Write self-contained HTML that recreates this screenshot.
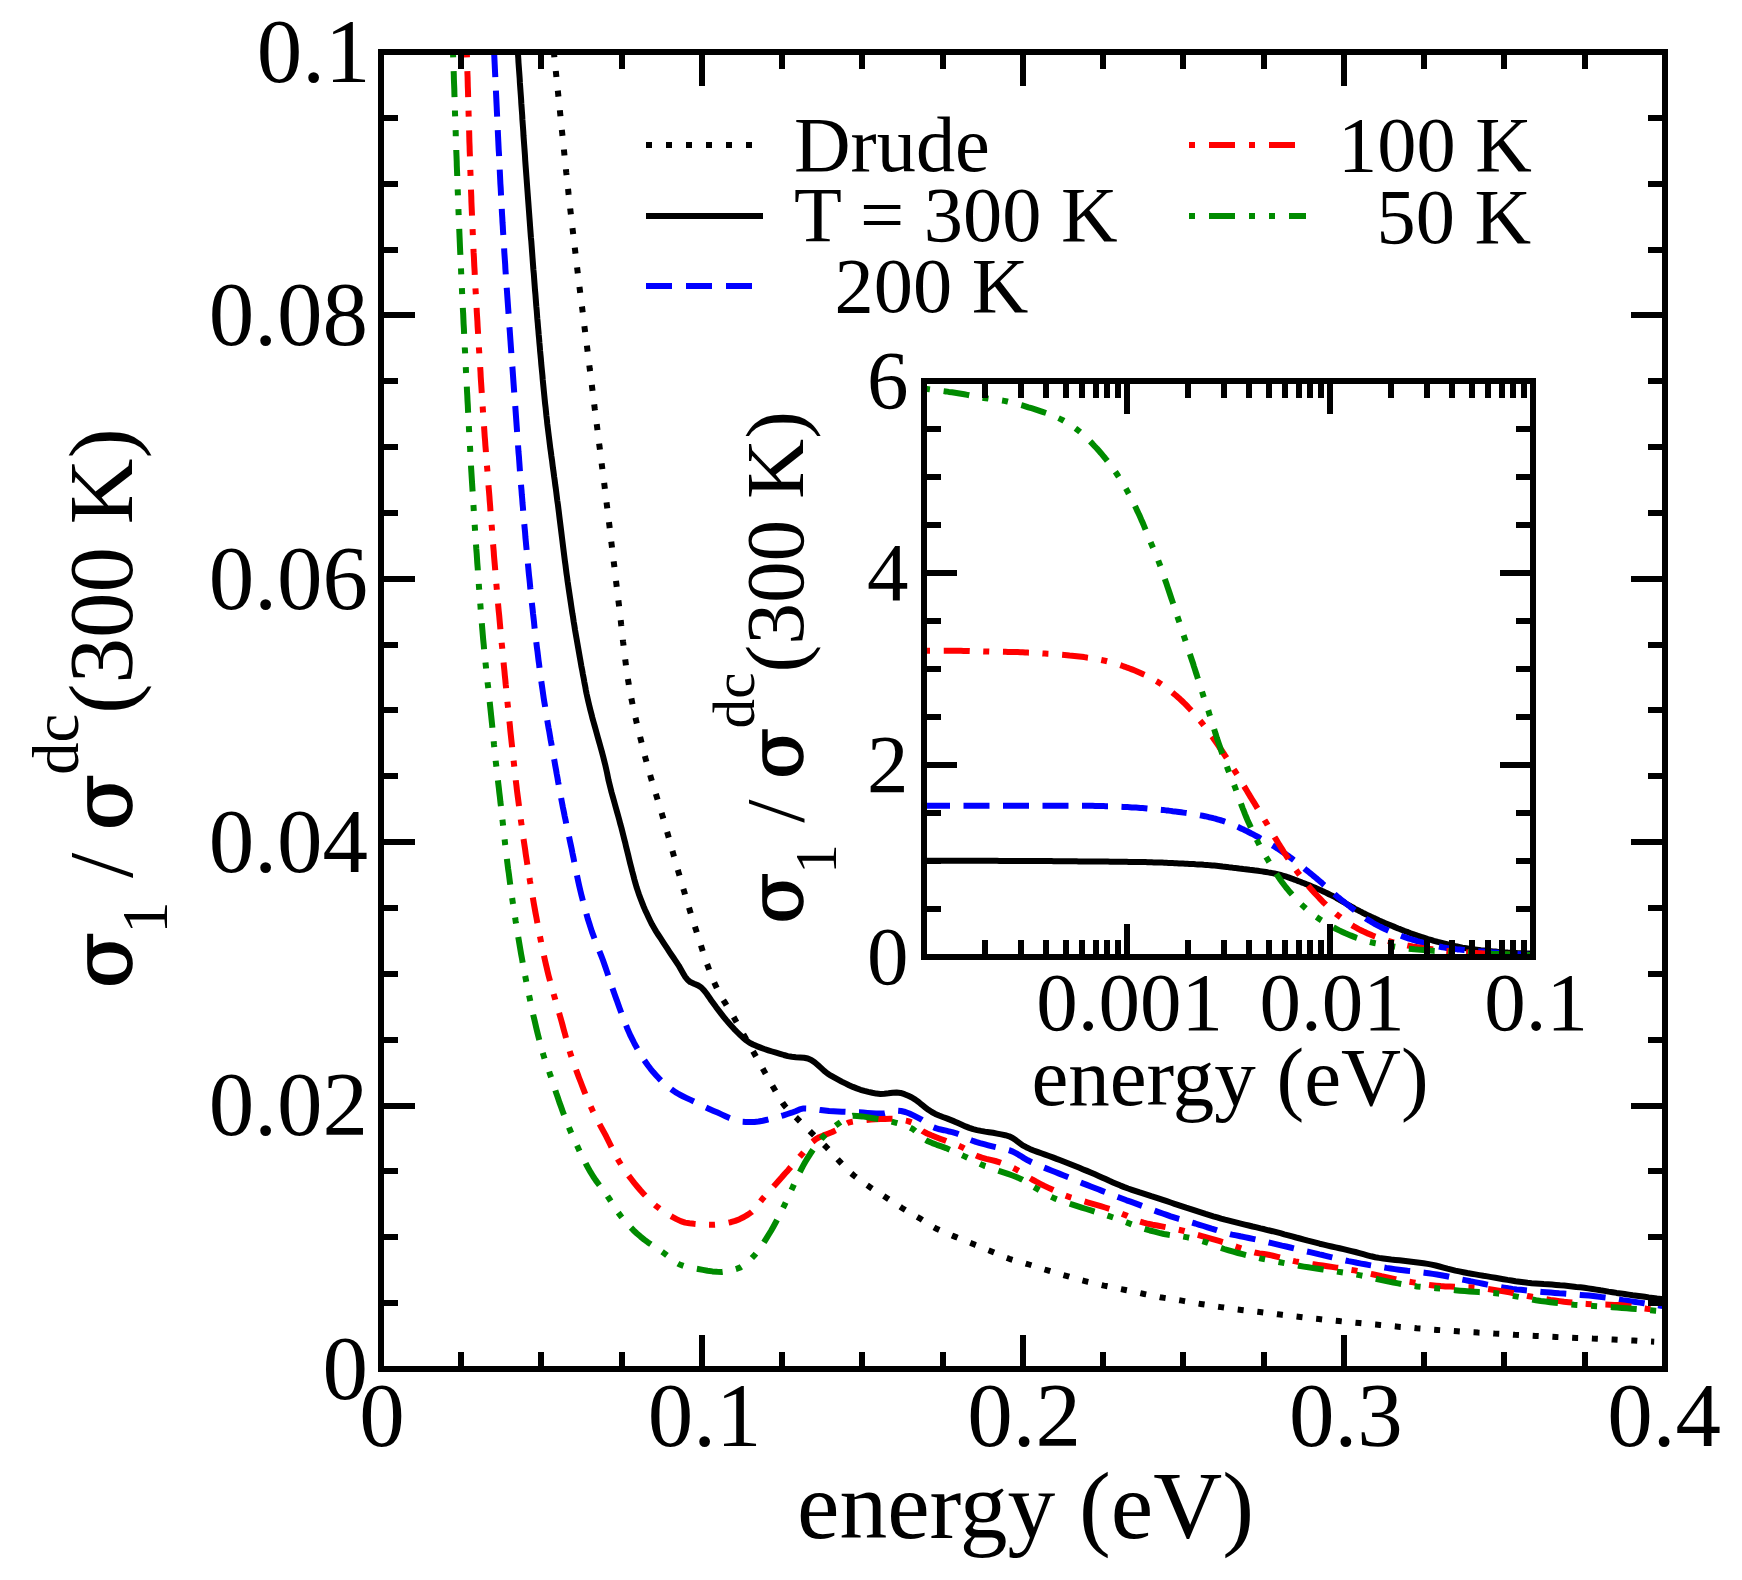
<!DOCTYPE html>
<html lang="en"><head><meta charset="utf-8"><title>Optical conductivity</title>
<style>html,body{margin:0;padding:0;background:#fff}svg{display:block}text{font-family:"Liberation Serif",serif;fill:#000}.sg{font-family:"DejaVu Serif","Liberation Serif",serif;stroke:#000}</style></head><body>
<svg width="1742" height="1580" viewBox="0 0 1742 1580">
<rect width="1742" height="1580" fill="#fff"/>
<defs><clipPath id="cm"><rect x="381" y="52" width="1284" height="1317"/></clipPath>
<clipPath id="ci"><rect x="924" y="381" width="609" height="576"/></clipPath></defs>
<g id="main-curves">
<path d="M550.6 22.0 L551.1 26.1 L551.5 30.2 L551.9 34.2 L552.4 38.3 L552.8 42.4 L553.2 46.5 L553.6 50.6 L554.1 54.6 L554.5 58.7 L554.9 62.8 L555.4 66.9 L555.8 71.0 L556.2 75.0 L556.6 79.1 L557.0 83.2 L557.5 87.3 L557.9 91.4 L558.3 95.4 L558.7 99.5 L559.1 103.6 L559.6 107.7 L560.0 111.8 L560.4 115.8 L560.8 119.9 L561.2 124.0 L561.6 128.1 L562.1 132.2 L562.5 136.2 L562.9 140.3 L563.3 144.4 L563.8 148.5 L564.2 152.6 L564.6 156.6 L565.0 160.7 L565.5 164.8 L565.9 168.9 L566.3 173.0 L566.8 177.0 L567.2 181.1 L567.6 185.2 L568.1 189.3 L568.5 193.4 L569.0 197.4 L569.4 201.5 L569.9 205.6 L570.3 209.7 L570.8 213.7 L571.3 217.8 L571.7 221.9 L572.2 226.0 L572.7 230.0 L573.2 234.1 L573.6 238.2 L574.1 242.3 L574.6 246.3 L575.1 250.4 L575.6 254.5 L576.1 258.5 L576.5 262.6 L577.0 266.7 L577.5 270.8 L578.0 274.8 L578.5 278.9 L579.0 283.0 L579.5 287.1 L580.0 291.1 L580.5 295.2 L581.0 299.3 L581.5 303.3 L582.1 307.4 L582.6 311.5 L583.1 315.5 L583.6 319.6 L584.1 323.7 L584.6 327.8 L585.1 331.8 L585.6 335.9 L586.1 340.0 L586.7 344.0 L587.2 348.1 L587.7 352.2 L588.2 356.2 L588.7 360.3 L589.2 364.4 L589.7 368.5 L590.3 372.5 L590.8 376.6 L591.3 380.7 L591.8 384.7 L592.3 388.8 L592.8 392.9 L593.3 396.9 L593.8 401.0 L594.3 405.1 L594.8 409.2 L595.4 413.2 L595.9 417.3 L596.4 421.4 L596.9 425.4 L597.4 429.5 L597.9 433.6 L598.4 437.6 L598.9 441.7 L599.4 445.8 L600.0 449.9 L600.5 453.9 L601.0 458.0 L601.5 462.1 L602.0 466.1 L602.5 470.2 L603.0 474.3 L603.5 478.3 L604.1 482.4 L604.6 486.5 L605.1 490.6 L605.6 494.6 L606.1 498.7 L606.6 502.8 L607.1 506.8 L607.6 510.9 L608.1 515.0 L608.6 519.1 L609.1 523.1 L609.6 527.2 L610.1 531.3 L610.5 535.3 L611.0 539.4 L611.5 543.5 L612.0 547.6 L612.5 551.6 L613.0 555.7 L613.5 559.8 L614.0 563.9 L614.5 567.9 L614.9 572.0 L615.4 576.1 L615.9 580.1 L616.4 584.2 L616.9 588.3 L617.4 592.4 L617.9 596.4 L618.4 600.5 L618.9 604.6 L619.4 608.7 L619.8 612.7 L620.3 616.8 L620.8 620.9 L621.2 625.0 L621.7 629.1 L622.1 633.1 L622.6 637.2 L623.0 641.3 L623.5 645.4 L624.0 649.5 L624.5 653.5 L625.0 657.6 L625.5 661.7 L626.0 665.7 L626.6 669.8 L627.1 673.9 L627.7 677.9 L628.4 681.9 L629.0 686.0 L629.7 690.0 L630.5 694.0 L631.3 698.1 L632.1 702.1 L632.9 706.1 L633.8 710.1 L634.6 714.1 L635.6 718.1 L636.5 722.1 L637.4 726.1 L638.4 730.1 L639.4 734.1 L640.4 738.1 L641.4 742.1 L642.4 746.1 L643.4 750.0 L644.4 754.0 L645.4 758.0 L646.5 762.0 L647.5 765.9 L648.7 769.9 L649.8 773.8 L650.9 777.7 L652.1 781.7 L653.3 785.6 L654.5 789.5 L655.7 793.5 L656.9 797.4 L658.1 801.3 L659.3 805.2 L660.5 809.1 L661.7 813.1 L662.8 817.0 L664.0 820.9 L665.1 824.9 L666.2 828.8 L667.4 832.8 L668.5 836.7 L669.6 840.7 L670.7 844.6 L671.8 848.6 L672.9 852.5 L674.0 856.5 L675.1 860.4 L676.2 864.4 L677.4 868.3 L678.5 872.2 L679.7 876.2 L680.8 880.1 L682.0 884.1 L683.1 888.0 L684.3 891.9 L685.4 895.9 L686.6 899.8 L687.8 903.7 L689.0 907.7 L690.2 911.6 L691.4 915.5 L692.6 919.4 L693.8 923.3 L695.1 927.2 L696.4 931.1 L697.6 935.0 L698.9 939.0 L700.1 942.9 L701.4 946.8 L702.6 950.7 L703.9 954.7 L705.2 958.6 L706.5 962.5 L707.9 966.3 L709.3 970.2 L710.8 974.0 L712.3 977.8 L713.8 981.6 L715.5 985.3 L717.2 988.9 L719.1 992.6 L721.1 996.1 L723.1 999.7 L725.3 1003.2 L727.4 1006.7 L729.6 1010.3 L731.7 1013.8 L733.8 1017.3 L735.8 1020.9 L737.8 1024.5 L739.9 1028.0 L741.9 1031.6 L743.9 1035.2 L745.9 1038.8 L747.9 1042.3 L749.9 1045.9 L752.0 1049.5 L754.0 1053.0 L756.0 1056.6 L758.0 1060.2 L760.0 1063.8 L762.0 1067.3 L764.0 1070.9 L766.0 1074.5 L768.1 1078.1 L770.1 1081.6 L772.1 1085.2 L774.2 1088.7 L776.3 1092.3 L778.3 1095.9 L780.4 1099.5 L782.6 1102.9 L785.0 1106.1 L787.7 1109.2 L790.6 1112.1 L793.5 1115.0 L796.5 1117.9 L799.4 1120.8 L802.3 1123.7 L805.2 1126.6 L808.1 1129.5 L811.0 1132.4 L813.9 1135.2 L816.9 1138.1 L819.9 1140.9 L822.9 1143.7 L825.8 1146.5 L828.7 1149.5 L831.5 1152.5 L834.2 1155.6 L837.0 1158.6 L839.8 1161.6 L842.6 1164.6 L845.4 1167.6 L848.3 1170.5 L851.3 1173.3 L854.4 1176.0 L857.6 1178.5 L860.9 1180.9 L864.3 1183.3 L867.7 1185.6 L871.1 1187.9 L874.5 1190.1 L878.0 1192.3 L881.5 1194.5 L884.9 1196.7 L888.3 1199.0 L891.8 1201.3 L895.2 1203.5 L898.6 1205.8 L902.0 1208.0 L905.5 1210.1 L909.1 1212.2 L912.7 1214.2 L916.2 1216.3 L919.8 1218.3 L923.2 1220.5 L926.7 1222.8 L930.1 1225.0 L933.6 1227.1 L937.2 1229.1 L940.9 1230.8 L944.7 1232.4 L948.5 1234.0 L952.3 1235.6 L956.1 1237.1 L959.9 1238.7 L963.7 1240.2 L967.5 1241.7 L971.3 1243.2 L975.1 1244.8 L978.9 1246.3 L982.7 1247.9 L986.5 1249.5 L990.3 1251.0 L994.1 1252.6 L997.9 1254.3 L1001.6 1255.9 L1005.4 1257.4 L1009.3 1258.8 L1013.2 1260.0 L1017.1 1261.2 L1021.1 1262.3 L1025.0 1263.3 L1029.0 1264.5 L1032.9 1265.7 L1036.8 1267.0 L1040.7 1268.3 L1044.6 1269.5 L1048.5 1270.7 L1052.5 1271.9 L1056.4 1273.0 L1060.3 1274.2 L1064.3 1275.3 L1068.2 1276.4 L1072.2 1277.6 L1076.1 1278.7 L1080.1 1279.8 L1084.0 1280.8 L1088.0 1281.9 L1092.0 1282.8 L1096.0 1283.8 L1100.0 1284.7 L1104.0 1285.6 L1108.0 1286.4 L1112.0 1287.3 L1116.0 1288.1 L1120.1 1288.9 L1124.1 1289.7 L1128.1 1290.5 L1132.1 1291.4 L1136.1 1292.3 L1140.1 1293.1 L1144.1 1294.0 L1148.2 1294.8 L1152.2 1295.6 L1156.2 1296.4 L1160.2 1297.2 L1164.3 1297.9 L1168.3 1298.5 L1172.4 1299.1 L1176.4 1299.7 L1180.5 1300.4 L1184.5 1301.1 L1188.6 1301.8 L1192.6 1302.5 L1196.6 1303.3 L1200.7 1304.0 L1204.7 1304.6 L1208.8 1305.3 L1212.8 1305.9 L1216.9 1306.5 L1220.9 1307.1 L1225.0 1307.7 L1229.1 1308.3 L1233.1 1308.8 L1237.2 1309.4 L1241.3 1309.9 L1245.3 1310.4 L1249.4 1310.9 L1253.5 1311.3 L1257.6 1311.8 L1261.6 1312.3 L1265.7 1312.8 L1269.8 1313.3 L1273.9 1313.8 L1277.9 1314.3 L1282.0 1314.8 L1286.1 1315.3 L1290.1 1315.8 L1294.2 1316.2 L1298.3 1316.7 L1302.4 1317.2 L1306.4 1317.7 L1310.5 1318.1 L1314.6 1318.6 L1318.7 1319.0 L1322.7 1319.5 L1326.8 1319.9 L1330.9 1320.3 L1335.0 1320.7 L1339.1 1321.1 L1343.1 1321.5 L1347.2 1321.9 L1351.3 1322.3 L1355.4 1322.7 L1359.5 1323.1 L1363.6 1323.5 L1367.6 1323.9 L1371.7 1324.3 L1375.8 1324.6 L1379.9 1325.0 L1384.0 1325.4 L1388.1 1325.7 L1392.2 1326.1 L1396.2 1326.5 L1400.3 1326.9 L1404.4 1327.2 L1408.5 1327.6 L1412.6 1327.9 L1416.7 1328.3 L1420.8 1328.6 L1424.9 1329.0 L1428.9 1329.3 L1433.0 1329.6 L1437.1 1329.9 L1441.2 1330.2 L1445.3 1330.5 L1449.4 1330.8 L1453.5 1331.0 L1457.6 1331.3 L1461.7 1331.6 L1465.8 1331.8 L1469.9 1332.1 L1474.0 1332.3 L1478.1 1332.6 L1482.1 1332.8 L1486.2 1333.1 L1490.3 1333.3 L1494.4 1333.6 L1498.5 1333.8 L1502.6 1334.0 L1506.7 1334.3 L1510.8 1334.5 L1514.9 1334.8 L1519.0 1335.0 L1523.1 1335.2 L1527.2 1335.5 L1531.3 1335.7 L1535.4 1335.9 L1539.5 1336.1 L1543.6 1336.3 L1547.7 1336.6 L1551.8 1336.8 L1555.9 1337.0 L1560.0 1337.2 L1564.1 1337.3 L1568.2 1337.5 L1572.3 1337.7 L1576.4 1337.9 L1580.5 1338.0 L1584.6 1338.2 L1588.7 1338.4 L1592.8 1338.6 L1596.8 1338.7 L1600.9 1338.9 L1605.0 1339.1 L1609.1 1339.3 L1613.2 1339.5 L1617.3 1339.7 L1621.4 1339.9 L1625.5 1340.1 L1629.6 1340.3 L1633.7 1340.5 L1637.8 1340.8 L1641.9 1341.0 L1646.0 1341.2 L1650.1 1341.5 L1654.2 1341.7" fill="none" stroke="#000" stroke-width="6" stroke-linejoin="round" stroke-dasharray="6 13.75" stroke-dashoffset="10" clip-path="url(#cm)"/>
<path d="M515.7 22.0 L516.0 26.1 L516.3 30.1 L516.5 34.2 L516.8 38.2 L517.1 42.3 L517.4 46.4 L517.7 50.4 L518.0 54.5 L518.3 58.6 L518.5 62.6 L518.8 66.7 L519.1 70.7 L519.4 74.8 L519.7 78.9 L519.9 82.9 L520.2 87.0 L520.5 91.1 L520.8 95.1 L521.1 99.2 L521.3 103.2 L521.6 107.3 L521.9 111.4 L522.2 115.4 L522.4 119.5 L522.7 123.6 L523.0 127.6 L523.3 131.7 L523.5 135.8 L523.8 139.8 L524.1 143.9 L524.4 147.9 L524.7 152.0 L525.0 156.1 L525.2 160.1 L525.5 164.2 L525.8 168.3 L526.1 172.3 L526.4 176.4 L526.7 180.4 L527.0 184.5 L527.3 188.6 L527.6 192.6 L527.9 196.7 L528.2 200.7 L528.5 204.8 L528.8 208.9 L529.1 212.9 L529.4 217.0 L529.7 221.0 L530.0 225.1 L530.3 229.2 L530.6 233.2 L530.9 237.3 L531.3 241.3 L531.6 245.4 L531.9 249.5 L532.2 253.5 L532.5 257.6 L532.8 261.7 L533.1 265.7 L533.4 269.8 L533.8 273.8 L534.1 277.9 L534.4 282.0 L534.7 286.0 L535.0 290.1 L535.4 294.1 L535.7 298.2 L536.0 302.3 L536.3 306.3 L536.7 310.4 L537.0 314.4 L537.3 318.5 L537.7 322.6 L538.0 326.6 L538.4 330.7 L538.7 334.7 L539.1 338.8 L539.4 342.8 L539.8 346.9 L540.1 351.0 L540.5 355.0 L540.9 359.1 L541.2 363.1 L541.6 367.2 L542.0 371.2 L542.4 375.3 L542.7 379.3 L543.1 383.4 L543.5 387.4 L543.9 391.5 L544.3 395.5 L544.7 399.6 L545.1 403.6 L545.6 407.7 L546.0 411.7 L546.4 415.8 L546.9 419.8 L547.3 423.9 L547.8 427.9 L548.3 432.0 L548.8 436.0 L549.3 440.0 L549.8 444.1 L550.3 448.1 L550.9 452.2 L551.4 456.2 L552.0 460.2 L552.5 464.3 L553.0 468.3 L553.6 472.3 L554.1 476.4 L554.7 480.4 L555.2 484.5 L555.8 488.5 L556.3 492.5 L556.8 496.6 L557.3 500.6 L557.9 504.6 L558.4 508.7 L558.9 512.7 L559.4 516.8 L559.9 520.8 L560.4 524.9 L560.9 528.9 L561.4 532.9 L561.9 537.0 L562.4 541.0 L562.9 545.1 L563.4 549.1 L563.9 553.1 L564.4 557.2 L564.9 561.2 L565.5 565.3 L566.0 569.3 L566.5 573.3 L567.1 577.4 L567.6 581.4 L568.2 585.4 L568.8 589.5 L569.4 593.5 L570.0 597.5 L570.6 601.5 L571.2 605.6 L571.8 609.6 L572.4 613.6 L573.1 617.6 L573.7 621.7 L574.4 625.7 L575.0 629.7 L575.7 633.7 L576.4 637.7 L577.1 641.7 L577.8 645.8 L578.5 649.8 L579.2 653.8 L579.9 657.8 L580.6 661.8 L581.3 665.8 L582.1 669.8 L582.8 673.8 L583.6 677.8 L584.3 681.8 L585.1 685.8 L585.8 689.8 L586.6 693.8 L587.5 697.8 L588.4 701.8 L589.3 705.7 L590.3 709.7 L591.3 713.6 L592.3 717.6 L593.4 721.5 L594.5 725.4 L595.6 729.3 L596.7 733.3 L597.8 737.2 L598.9 741.1 L600.0 745.0 L601.1 749.0 L602.2 752.9 L603.2 756.8 L604.2 760.8 L605.2 764.7 L606.1 768.7 L607.0 772.7 L607.8 776.7 L608.6 780.6 L609.6 784.6 L610.6 788.5 L611.6 792.5 L612.7 796.4 L613.8 800.3 L614.9 804.3 L616.0 808.2 L617.1 812.1 L618.2 816.0 L619.3 820.0 L620.3 823.9 L621.4 827.8 L622.4 831.8 L623.4 835.7 L624.4 839.7 L625.4 843.6 L626.3 847.6 L627.3 851.5 L628.3 855.5 L629.2 859.4 L630.2 863.4 L631.2 867.3 L632.2 871.3 L633.3 875.2 L634.3 879.2 L635.4 883.1 L636.5 887.0 L637.8 890.9 L639.1 894.7 L640.5 898.5 L642.0 902.4 L643.5 906.2 L645.1 909.9 L646.8 913.6 L648.5 917.3 L650.3 921.0 L652.1 924.6 L654.1 928.1 L656.2 931.6 L658.4 935.0 L660.7 938.4 L662.9 941.8 L665.2 945.3 L667.4 948.7 L669.6 952.1 L671.9 955.5 L674.2 958.8 L676.4 962.2 L678.7 965.6 L680.8 969.3 L682.9 973.0 L685.0 976.6 L687.5 979.7 L690.3 982.1 L694.1 983.8 L698.0 985.4 L701.3 987.5 L704.0 990.3 L706.5 993.5 L708.9 996.9 L711.3 1000.5 L713.7 1003.8 L716.1 1007.1 L718.6 1010.3 L721.1 1013.6 L723.6 1016.8 L726.1 1019.9 L728.8 1023.0 L731.5 1026.1 L734.2 1029.1 L737.1 1032.0 L740.0 1034.8 L743.0 1037.7 L746.2 1040.3 L749.4 1042.6 L753.0 1044.5 L756.7 1046.1 L760.6 1047.6 L764.4 1049.0 L768.3 1050.3 L772.1 1051.5 L776.1 1052.7 L780.0 1053.8 L783.9 1055.0 L787.8 1056.1 L791.8 1056.8 L795.9 1057.2 L800.1 1057.4 L804.1 1057.7 L807.8 1058.5 L811.2 1060.0 L814.6 1062.3 L817.8 1065.0 L821.0 1067.9 L824.2 1070.9 L827.5 1073.5 L830.9 1075.7 L834.5 1077.7 L838.1 1079.6 L841.7 1081.6 L845.4 1083.4 L849.1 1085.2 L852.9 1086.9 L856.7 1088.4 L860.5 1089.8 L864.4 1090.9 L868.3 1091.9 L872.3 1092.8 L876.3 1093.6 L880.4 1094.0 L884.4 1093.8 L888.5 1093.3 L892.6 1092.7 L896.6 1092.4 L900.5 1092.9 L904.5 1094.2 L908.3 1095.8 L911.9 1097.5 L915.3 1099.6 L918.6 1102.0 L921.8 1104.7 L925.1 1107.3 L928.4 1109.8 L931.8 1112.0 L935.3 1113.9 L939.0 1115.5 L942.8 1117.0 L946.7 1118.4 L950.5 1119.9 L954.3 1121.4 L958.0 1123.1 L961.8 1124.8 L965.5 1126.4 L969.3 1127.9 L973.1 1129.2 L977.0 1130.1 L981.0 1130.9 L985.0 1131.6 L989.1 1132.2 L993.1 1132.8 L997.1 1133.6 L1001.2 1134.4 L1005.2 1135.2 L1009.1 1136.3 L1012.6 1138.0 L1016.0 1140.3 L1019.3 1142.8 L1022.7 1145.3 L1026.2 1147.2 L1029.8 1148.9 L1033.6 1150.5 L1037.4 1151.9 L1041.3 1153.3 L1045.1 1154.6 L1049.0 1156.0 L1052.8 1157.4 L1056.6 1158.9 L1060.4 1160.3 L1064.2 1161.8 L1068.0 1163.3 L1071.8 1164.8 L1075.6 1166.3 L1079.4 1167.8 L1083.2 1169.4 L1086.9 1170.9 L1090.7 1172.5 L1094.4 1174.1 L1098.1 1175.7 L1101.9 1177.4 L1105.6 1179.1 L1109.3 1180.8 L1113.0 1182.4 L1116.7 1184.0 L1120.5 1185.6 L1124.3 1187.1 L1128.1 1188.5 L1131.9 1189.8 L1135.8 1191.1 L1139.7 1192.4 L1143.6 1193.6 L1147.4 1194.8 L1151.3 1196.1 L1155.2 1197.3 L1159.1 1198.6 L1162.9 1199.9 L1166.8 1201.2 L1170.7 1202.5 L1174.5 1203.8 L1178.4 1205.1 L1182.2 1206.4 L1186.1 1207.7 L1190.0 1208.9 L1193.9 1210.2 L1197.7 1211.4 L1201.6 1212.6 L1205.5 1213.9 L1209.4 1215.1 L1213.3 1216.3 L1217.2 1217.4 L1221.1 1218.6 L1225.0 1219.7 L1229.0 1220.7 L1232.9 1221.7 L1236.9 1222.7 L1240.8 1223.6 L1244.8 1224.6 L1248.7 1225.5 L1252.7 1226.5 L1256.7 1227.4 L1260.6 1228.4 L1264.6 1229.3 L1268.5 1230.3 L1272.5 1231.2 L1276.4 1232.2 L1280.4 1233.2 L1284.3 1234.3 L1288.3 1235.3 L1292.2 1236.4 L1296.1 1237.5 L1300.0 1238.5 L1304.0 1239.6 L1307.9 1240.7 L1311.9 1241.7 L1315.8 1242.7 L1319.7 1243.7 L1323.7 1244.6 L1327.7 1245.6 L1331.6 1246.5 L1335.6 1247.4 L1339.6 1248.3 L1343.5 1249.2 L1347.5 1250.1 L1351.5 1251.1 L1355.4 1252.0 L1359.4 1253.1 L1363.3 1254.2 L1367.3 1255.3 L1371.2 1256.3 L1375.2 1257.2 L1379.1 1257.9 L1383.2 1258.5 L1387.2 1259.0 L1391.2 1259.5 L1395.3 1259.9 L1399.4 1260.3 L1403.4 1260.8 L1407.5 1261.3 L1411.5 1261.8 L1415.6 1262.3 L1419.6 1262.8 L1423.6 1263.3 L1427.6 1263.9 L1431.6 1264.6 L1435.6 1265.5 L1439.5 1266.5 L1443.5 1267.6 L1447.4 1268.7 L1451.4 1269.7 L1455.3 1270.6 L1459.3 1271.4 L1463.3 1272.2 L1467.3 1273.0 L1471.3 1273.7 L1475.3 1274.4 L1479.4 1275.1 L1483.4 1275.8 L1487.4 1276.4 L1491.4 1277.1 L1495.4 1277.8 L1499.4 1278.5 L1503.5 1279.2 L1507.5 1279.9 L1511.5 1280.5 L1515.5 1281.2 L1519.6 1281.8 L1523.6 1282.3 L1527.6 1282.8 L1531.7 1283.2 L1535.7 1283.5 L1539.8 1283.8 L1543.8 1284.1 L1547.9 1284.3 L1552.0 1284.6 L1556.0 1284.9 L1560.1 1285.3 L1564.2 1285.6 L1568.2 1286.0 L1572.3 1286.4 L1576.3 1286.9 L1580.4 1287.3 L1584.4 1287.8 L1588.4 1288.4 L1592.5 1289.0 L1596.5 1289.6 L1600.5 1290.3 L1604.5 1290.9 L1608.5 1291.6 L1612.6 1292.2 L1616.6 1292.9 L1620.6 1293.4 L1624.6 1294.0 L1628.7 1294.6 L1632.7 1295.2 L1636.7 1295.7 L1640.8 1296.3 L1644.8 1296.8 L1648.8 1297.4 L1652.9 1297.9 L1656.9 1298.5 L1661.0 1299.0 L1665.0 1299.5" fill="none" stroke="#000" stroke-width="6" stroke-linejoin="round" clip-path="url(#cm)"/>
<path d="M492.6 22.0 L492.8 26.3 L493.0 30.5 L493.2 34.8 L493.5 39.0 L493.7 43.3 L493.9 47.6 L494.1 51.8 L494.3 56.1 L494.5 60.3 L494.7 64.6 L494.9 68.9 L495.1 73.1 L495.3 77.4 L495.5 81.7 L495.7 85.9 L495.9 90.2 L496.1 94.4 L496.3 98.7 L496.5 103.0 L496.7 107.2 L496.9 111.5 L497.1 115.7 L497.3 120.0 L497.5 124.3 L497.7 128.5 L497.9 132.8 L498.1 137.1 L498.3 141.3 L498.5 145.6 L498.7 149.8 L499.0 154.1 L499.2 158.4 L499.4 162.6 L499.6 166.9 L499.8 171.1 L500.0 175.4 L500.2 179.7 L500.4 183.9 L500.7 188.2 L500.9 192.4 L501.1 196.7 L501.3 201.0 L501.6 205.2 L501.8 209.5 L502.0 213.7 L502.3 218.0 L502.5 222.3 L502.8 226.5 L503.0 230.8 L503.3 235.0 L503.5 239.3 L503.8 243.5 L504.1 247.8 L504.3 252.1 L504.6 256.3 L504.9 260.6 L505.2 264.8 L505.4 269.1 L505.7 273.3 L506.0 277.6 L506.3 281.9 L506.6 286.1 L506.9 290.4 L507.2 294.6 L507.5 298.9 L507.8 303.1 L508.1 307.4 L508.4 311.6 L508.7 315.9 L509.0 320.2 L509.3 324.4 L509.6 328.7 L509.9 332.9 L510.2 337.2 L510.5 341.4 L510.8 345.7 L511.1 349.9 L511.4 354.2 L511.7 358.4 L512.0 362.7 L512.4 367.0 L512.7 371.2 L513.0 375.5 L513.3 379.7 L513.6 384.0 L513.9 388.2 L514.2 392.5 L514.5 396.7 L514.8 401.0 L515.2 405.3 L515.5 409.5 L515.8 413.8 L516.1 418.0 L516.4 422.3 L516.7 426.5 L517.0 430.8 L517.3 435.0 L517.6 439.3 L517.9 443.5 L518.2 447.8 L518.5 452.1 L518.9 456.3 L519.2 460.6 L519.5 464.8 L519.8 469.1 L520.1 473.3 L520.5 477.6 L520.8 481.8 L521.1 486.1 L521.5 490.3 L521.8 494.6 L522.2 498.8 L522.5 503.1 L522.9 507.3 L523.2 511.6 L523.6 515.8 L523.9 520.1 L524.3 524.3 L524.7 528.6 L525.1 532.8 L525.4 537.1 L525.8 541.3 L526.2 545.6 L526.6 549.8 L527.0 554.1 L527.4 558.3 L527.8 562.6 L528.2 566.8 L528.6 571.1 L529.0 575.3 L529.5 579.6 L529.9 583.8 L530.3 588.1 L530.8 592.3 L531.2 596.5 L531.6 600.8 L532.1 605.0 L532.6 609.3 L533.0 613.5 L533.5 617.7 L534.0 622.0 L534.4 626.2 L534.9 630.5 L535.4 634.7 L535.9 638.9 L536.4 643.2 L536.9 647.4 L537.5 651.7 L538.0 655.9 L538.5 660.1 L539.1 664.4 L539.6 668.6 L540.2 672.8 L540.7 677.0 L541.3 681.3 L541.9 685.5 L542.5 689.7 L543.1 693.9 L543.7 698.1 L544.4 702.4 L545.1 706.6 L545.7 710.8 L546.4 715.0 L547.1 719.2 L547.8 723.4 L548.5 727.6 L549.3 731.8 L550.0 736.0 L550.7 740.2 L551.5 744.4 L552.2 748.6 L553.0 752.8 L553.7 757.0 L554.5 761.2 L555.2 765.4 L556.0 769.6 L556.7 773.8 L557.5 778.0 L558.2 782.2 L559.0 786.4 L559.7 790.6 L560.5 794.8 L561.3 799.0 L562.1 803.2 L562.9 807.4 L563.8 811.6 L564.6 815.8 L565.5 819.9 L566.3 824.1 L567.2 828.3 L568.1 832.4 L569.0 836.6 L569.9 840.8 L570.8 845.0 L571.7 849.1 L572.5 853.3 L573.4 857.5 L574.2 861.7 L575.0 865.9 L575.9 870.1 L576.7 874.2 L577.6 878.4 L578.5 882.6 L579.4 886.7 L580.4 890.9 L581.4 895.0 L582.5 899.2 L583.5 903.3 L584.6 907.4 L585.8 911.6 L586.9 915.7 L588.1 919.8 L589.4 923.8 L590.7 927.9 L592.0 931.9 L593.5 935.9 L595.0 939.9 L596.6 943.9 L598.1 947.9 L599.7 951.8 L601.3 955.8 L602.8 959.8 L604.2 963.8 L605.6 967.8 L607.0 971.9 L608.4 975.9 L609.7 980.0 L611.1 984.0 L612.4 988.1 L613.8 992.1 L615.2 996.1 L616.7 1000.1 L618.1 1004.1 L619.6 1008.2 L621.1 1012.2 L622.5 1016.2 L624.0 1020.2 L625.6 1024.2 L627.2 1028.2 L628.9 1032.1 L630.6 1035.9 L632.5 1039.7 L634.4 1043.5 L636.5 1047.3 L638.6 1051.1 L640.8 1054.8 L643.1 1058.5 L645.5 1062.0 L648.0 1065.5 L650.5 1068.8 L653.2 1072.1 L656.0 1075.2 L658.9 1078.3 L662.0 1081.4 L665.2 1084.3 L668.6 1087.1 L672.0 1089.7 L675.4 1092.1 L679.0 1094.3 L682.8 1096.2 L686.7 1098.1 L690.6 1099.9 L694.4 1101.7 L698.2 1103.6 L702.1 1105.5 L705.9 1107.4 L709.8 1109.2 L713.7 1110.9 L717.6 1112.6 L721.5 1114.4 L725.5 1116.3 L729.5 1118.1 L733.5 1119.7 L737.5 1120.9 L741.6 1121.7 L745.8 1121.9 L750.1 1122.0 L754.4 1122.0 L758.6 1121.5 L762.8 1120.7 L767.0 1119.8 L771.1 1118.8 L775.3 1117.7 L779.4 1116.5 L783.5 1115.3 L787.5 1114.0 L791.6 1112.7 L795.6 1111.2 L799.6 1109.4 L803.7 1108.4 L807.9 1108.5 L812.1 1108.9 L816.3 1109.5 L820.6 1110.1 L824.9 1110.6 L829.1 1111.1 L833.4 1111.3 L837.7 1111.5 L841.9 1111.7 L846.2 1111.9 L850.4 1112.0 L854.7 1112.2 L859.0 1112.3 L863.2 1112.6 L867.5 1112.9 L871.8 1113.2 L876.0 1113.4 L880.3 1113.5 L884.5 1113.2 L888.8 1112.3 L893.0 1111.3 L897.1 1110.7 L901.2 1111.0 L905.3 1112.0 L909.4 1113.5 L913.4 1115.4 L917.3 1117.4 L921.1 1119.4 L924.7 1121.6 L928.3 1124.2 L931.8 1126.5 L935.7 1128.1 L939.7 1129.3 L943.9 1130.2 L948.1 1131.2 L952.3 1132.1 L956.4 1133.3 L960.4 1134.9 L964.1 1136.9 L967.9 1138.9 L971.9 1140.5 L975.9 1141.9 L980.0 1143.1 L984.1 1144.2 L988.3 1145.3 L992.4 1146.3 L996.6 1147.3 L1000.8 1148.2 L1005.0 1149.1 L1009.0 1150.1 L1012.9 1151.6 L1016.7 1153.6 L1020.4 1155.8 L1024.0 1158.1 L1027.8 1160.3 L1031.6 1162.2 L1035.5 1164.0 L1039.4 1165.6 L1043.4 1167.3 L1047.3 1168.9 L1051.3 1170.5 L1055.2 1172.0 L1059.2 1173.6 L1063.2 1175.2 L1067.1 1176.8 L1071.0 1178.4 L1075.0 1180.1 L1078.9 1181.8 L1082.8 1183.4 L1086.8 1184.9 L1090.8 1186.5 L1094.8 1188.0 L1098.8 1189.5 L1102.7 1191.1 L1106.7 1192.6 L1110.7 1194.2 L1114.6 1195.8 L1118.6 1197.3 L1122.6 1198.8 L1126.6 1200.3 L1130.6 1201.7 L1134.7 1203.1 L1138.7 1204.6 L1142.7 1206.1 L1146.6 1207.6 L1150.6 1209.2 L1154.6 1210.7 L1158.6 1212.1 L1162.7 1213.5 L1166.7 1214.9 L1170.7 1216.3 L1174.8 1217.6 L1178.9 1218.9 L1183.0 1220.0 L1187.1 1221.2 L1191.2 1222.3 L1195.3 1223.5 L1199.4 1224.8 L1203.4 1226.0 L1207.5 1227.3 L1211.6 1228.6 L1215.7 1229.8 L1219.7 1231.1 L1223.8 1232.4 L1227.9 1233.5 L1232.0 1234.6 L1236.2 1235.4 L1240.4 1236.3 L1244.6 1237.1 L1248.8 1238.0 L1252.9 1238.9 L1257.1 1239.8 L1261.3 1240.8 L1265.4 1241.7 L1269.6 1242.7 L1273.7 1243.6 L1277.9 1244.6 L1282.0 1245.6 L1286.2 1246.5 L1290.3 1247.5 L1294.5 1248.5 L1298.6 1249.5 L1302.8 1250.5 L1306.9 1251.5 L1311.1 1252.4 L1315.3 1253.4 L1319.4 1254.4 L1323.6 1255.3 L1327.7 1256.3 L1331.9 1257.3 L1336.0 1258.3 L1340.2 1259.2 L1344.3 1260.2 L1348.5 1261.1 L1352.7 1261.9 L1356.9 1262.8 L1361.1 1263.6 L1365.2 1264.3 L1369.5 1265.1 L1373.7 1265.8 L1377.9 1266.5 L1382.1 1267.2 L1386.3 1267.9 L1390.5 1268.5 L1394.7 1269.1 L1399.0 1269.7 L1403.2 1270.2 L1407.4 1270.8 L1411.7 1271.2 L1415.9 1271.7 L1420.2 1272.2 L1424.4 1272.7 L1428.6 1273.3 L1432.8 1273.9 L1437.0 1274.5 L1441.2 1275.2 L1445.4 1276.0 L1449.6 1276.9 L1453.8 1277.7 L1458.0 1278.6 L1462.1 1279.6 L1466.3 1280.4 L1470.5 1281.3 L1474.7 1282.1 L1478.9 1282.9 L1483.1 1283.7 L1487.3 1284.6 L1491.4 1285.4 L1495.6 1286.2 L1499.8 1286.9 L1504.1 1287.6 L1508.3 1288.3 L1512.5 1288.9 L1516.7 1289.4 L1520.9 1289.8 L1525.2 1290.3 L1529.4 1290.7 L1533.7 1291.1 L1537.9 1291.5 L1542.2 1291.9 L1546.4 1292.2 L1550.7 1292.6 L1554.9 1292.9 L1559.2 1293.3 L1563.5 1293.6 L1567.7 1293.9 L1572.0 1294.2 L1576.2 1294.5 L1580.5 1294.9 L1584.7 1295.2 L1589.0 1295.6 L1593.2 1296.0 L1597.4 1296.5 L1601.7 1297.1 L1605.9 1297.6 L1610.1 1298.3 L1614.3 1298.9 L1618.6 1299.5 L1622.8 1300.2 L1627.0 1300.8 L1631.2 1301.4 L1635.4 1302.0 L1639.7 1302.6 L1643.9 1303.2 L1648.1 1303.9 L1652.3 1304.5 L1656.6 1305.1 L1660.8 1305.7 L1665.0 1306.3" fill="none" stroke="#0000ff" stroke-width="6" stroke-linejoin="round" stroke-dasharray="26 13.5" stroke-dashoffset="10.3" clip-path="url(#cm)"/>
<path d="M465.9 22.0 L466.0 26.6 L466.1 31.2 L466.3 35.8 L466.4 40.4 L466.6 45.0 L466.7 49.6 L466.9 54.3 L467.0 58.9 L467.2 63.5 L467.3 68.1 L467.4 72.7 L467.6 77.3 L467.7 81.9 L467.8 86.5 L468.0 91.1 L468.1 95.7 L468.2 100.3 L468.4 104.9 L468.5 109.6 L468.6 114.2 L468.8 118.8 L468.9 123.4 L469.0 128.0 L469.2 132.6 L469.3 137.2 L469.4 141.8 L469.6 146.4 L469.7 151.0 L469.9 155.6 L470.0 160.2 L470.2 164.8 L470.3 169.5 L470.5 174.1 L470.6 178.7 L470.8 183.3 L470.9 187.9 L471.1 192.5 L471.3 197.1 L471.4 201.7 L471.6 206.3 L471.8 210.9 L472.0 215.5 L472.2 220.1 L472.4 224.7 L472.6 229.3 L472.8 233.9 L473.0 238.5 L473.2 243.1 L473.4 247.7 L473.6 252.4 L473.9 257.0 L474.1 261.6 L474.3 266.2 L474.6 270.8 L474.8 275.4 L475.0 280.0 L475.3 284.6 L475.5 289.2 L475.8 293.8 L476.0 298.4 L476.3 303.0 L476.6 307.6 L476.8 312.2 L477.1 316.8 L477.4 321.4 L477.6 326.0 L477.9 330.6 L478.2 335.2 L478.5 339.8 L478.7 344.4 L479.0 349.0 L479.3 353.6 L479.6 358.2 L479.9 362.8 L480.2 367.4 L480.5 372.0 L480.7 376.6 L481.0 381.2 L481.3 385.8 L481.6 390.4 L481.9 395.0 L482.2 399.6 L482.5 404.2 L482.8 408.8 L483.1 413.4 L483.4 418.0 L483.8 422.6 L484.1 427.2 L484.4 431.8 L484.7 436.4 L485.1 441.0 L485.4 445.6 L485.8 450.2 L486.1 454.8 L486.5 459.4 L486.8 464.0 L487.2 468.6 L487.6 473.2 L487.9 477.8 L488.3 482.4 L488.6 487.0 L489.0 491.6 L489.4 496.2 L489.7 500.8 L490.1 505.4 L490.4 510.0 L490.8 514.6 L491.1 519.2 L491.5 523.7 L491.9 528.3 L492.2 532.9 L492.6 537.5 L492.9 542.1 L493.3 546.7 L493.7 551.3 L494.0 555.9 L494.4 560.5 L494.8 565.1 L495.2 569.7 L495.5 574.3 L495.9 578.9 L496.3 583.5 L496.7 588.1 L497.1 592.7 L497.5 597.3 L497.9 601.9 L498.3 606.4 L498.7 611.0 L499.2 615.6 L499.6 620.2 L500.0 624.8 L500.4 629.4 L500.9 634.0 L501.3 638.6 L501.7 643.2 L502.2 647.8 L502.6 652.3 L503.0 656.9 L503.5 661.5 L503.9 666.1 L504.4 670.7 L504.8 675.3 L505.3 679.9 L505.7 684.5 L506.2 689.0 L506.6 693.6 L507.1 698.2 L507.5 702.8 L508.0 707.4 L508.5 712.0 L508.9 716.6 L509.4 721.2 L509.9 725.7 L510.3 730.3 L510.8 734.9 L511.3 739.5 L511.8 744.1 L512.3 748.7 L512.8 753.2 L513.3 757.8 L513.8 762.4 L514.3 767.0 L514.8 771.6 L515.3 776.2 L515.8 780.7 L516.4 785.3 L516.9 789.9 L517.5 794.5 L518.1 799.0 L518.7 803.6 L519.3 808.2 L519.9 812.8 L520.5 817.3 L521.1 821.9 L521.8 826.5 L522.4 831.0 L523.1 835.6 L523.7 840.1 L524.4 844.7 L525.1 849.3 L525.7 853.8 L526.4 858.4 L527.1 862.9 L527.8 867.5 L528.6 872.0 L529.3 876.6 L530.0 881.2 L530.8 885.7 L531.5 890.3 L532.3 894.8 L533.1 899.3 L533.9 903.9 L534.7 908.4 L535.5 912.9 L536.4 917.5 L537.2 922.0 L538.1 926.5 L538.9 931.1 L539.8 935.6 L540.7 940.1 L541.6 944.7 L542.6 949.2 L543.5 953.7 L544.5 958.2 L545.5 962.7 L546.6 967.2 L547.6 971.6 L548.7 976.1 L549.9 980.6 L551.1 985.0 L552.3 989.5 L553.6 993.9 L554.9 998.3 L556.1 1002.8 L557.4 1007.2 L558.7 1011.6 L560.0 1016.0 L561.3 1020.5 L562.5 1024.9 L563.7 1029.4 L564.9 1033.8 L566.1 1038.3 L567.3 1042.7 L568.5 1047.2 L569.8 1051.6 L571.2 1056.0 L572.7 1060.4 L574.2 1064.7 L575.8 1069.1 L577.4 1073.4 L579.0 1077.7 L580.7 1082.0 L582.3 1086.3 L584.0 1090.6 L585.7 1094.9 L587.5 1099.1 L589.3 1103.4 L591.2 1107.6 L593.1 1111.7 L595.2 1115.8 L597.3 1119.9 L599.5 1124.0 L601.7 1128.1 L603.9 1132.1 L606.1 1136.2 L608.1 1140.3 L610.2 1144.5 L612.2 1148.6 L614.3 1152.8 L616.4 1156.8 L618.7 1160.8 L621.1 1164.7 L623.6 1168.6 L626.2 1172.4 L629.0 1176.1 L631.8 1179.8 L634.6 1183.4 L637.6 1187.0 L640.6 1190.5 L643.7 1193.9 L646.9 1197.3 L650.1 1200.6 L653.5 1203.7 L657.0 1206.7 L660.6 1209.5 L664.4 1212.2 L668.3 1214.6 L672.3 1216.9 L676.5 1219.1 L680.7 1221.1 L685.1 1222.6 L689.5 1223.3 L694.0 1223.8 L698.6 1224.2 L703.3 1224.6 L707.9 1224.7 L712.6 1224.8 L717.2 1224.5 L721.8 1223.9 L726.4 1223.1 L730.8 1222.2 L735.2 1220.9 L739.6 1219.2 L743.9 1217.0 L747.9 1214.6 L751.5 1212.1 L754.7 1209.1 L757.6 1205.4 L760.4 1201.6 L763.3 1197.9 L766.4 1194.4 L769.4 1191.0 L772.5 1187.6 L775.6 1184.2 L778.7 1180.7 L781.8 1177.3 L784.8 1173.8 L787.9 1170.4 L790.9 1166.9 L793.9 1163.4 L796.9 1159.9 L799.9 1156.4 L803.0 1153.0 L806.0 1149.3 L809.0 1145.6 L812.1 1142.2 L815.5 1139.4 L819.3 1137.2 L823.5 1135.4 L827.9 1133.7 L832.3 1132.0 L836.5 1130.0 L840.5 1127.4 L844.4 1124.8 L848.4 1122.7 L852.7 1121.7 L857.3 1120.9 L861.9 1120.4 L866.6 1120.0 L871.1 1119.6 L875.8 1119.3 L880.4 1119.1 L885.0 1118.9 L889.6 1118.8 L894.2 1118.9 L898.9 1119.4 L903.6 1120.2 L908.0 1121.1 L912.0 1122.6 L915.7 1125.3 L919.3 1128.5 L923.1 1131.4 L927.1 1133.5 L931.3 1135.3 L935.6 1137.0 L940.0 1138.7 L944.3 1140.3 L948.6 1142.0 L953.0 1143.5 L957.3 1145.1 L961.5 1146.9 L965.6 1149.1 L969.5 1151.6 L973.4 1154.2 L977.5 1156.1 L981.8 1157.6 L986.2 1158.8 L990.7 1159.9 L995.3 1161.0 L999.7 1162.3 L1004.0 1163.8 L1008.3 1165.6 L1012.5 1167.5 L1016.6 1169.6 L1020.6 1171.9 L1024.4 1174.5 L1028.2 1177.1 L1032.2 1179.5 L1036.2 1181.7 L1040.3 1183.8 L1044.4 1185.9 L1048.6 1187.9 L1052.8 1189.8 L1057.0 1191.8 L1061.2 1193.7 L1065.4 1195.5 L1069.7 1197.1 L1074.1 1198.5 L1078.6 1199.7 L1083.0 1201.0 L1087.4 1202.3 L1091.9 1203.6 L1096.3 1204.8 L1100.7 1206.1 L1105.1 1207.5 L1109.5 1208.9 L1113.8 1210.5 L1118.1 1212.1 L1122.4 1213.9 L1126.7 1215.6 L1130.9 1217.6 L1135.0 1219.6 L1139.3 1221.4 L1143.6 1222.7 L1148.1 1223.8 L1152.6 1224.7 L1157.2 1225.5 L1161.7 1226.4 L1166.3 1227.3 L1170.8 1228.2 L1175.3 1229.0 L1179.8 1230.0 L1184.3 1231.0 L1188.8 1232.2 L1193.2 1233.6 L1197.6 1234.9 L1202.0 1236.1 L1206.5 1237.4 L1210.9 1238.6 L1215.4 1239.9 L1219.8 1241.2 L1224.2 1242.5 L1228.5 1244.0 L1232.9 1245.5 L1237.3 1247.0 L1241.6 1248.5 L1246.0 1249.9 L1250.4 1251.3 L1254.9 1252.5 L1259.4 1253.4 L1264.0 1254.0 L1268.5 1254.7 L1273.0 1255.7 L1277.5 1256.8 L1282.0 1258.0 L1286.4 1259.3 L1290.9 1260.4 L1295.4 1261.4 L1299.9 1262.2 L1304.4 1263.0 L1309.0 1263.6 L1313.6 1264.3 L1318.1 1264.9 L1322.7 1265.5 L1327.3 1266.2 L1331.8 1266.9 L1336.4 1267.6 L1341.0 1268.2 L1345.5 1268.9 L1350.1 1269.7 L1354.6 1270.4 L1359.1 1271.3 L1363.6 1272.3 L1368.1 1273.3 L1372.6 1274.3 L1377.1 1275.3 L1381.6 1276.3 L1386.2 1277.2 L1390.7 1278.2 L1395.2 1279.1 L1399.7 1280.0 L1404.2 1280.9 L1408.8 1281.7 L1413.3 1282.4 L1417.9 1283.2 L1422.4 1283.9 L1427.0 1284.6 L1431.6 1285.2 L1436.2 1285.7 L1440.7 1286.1 L1445.3 1286.4 L1449.9 1286.6 L1454.5 1286.7 L1459.2 1286.9 L1463.8 1287.0 L1468.4 1287.2 L1473.0 1287.4 L1477.6 1287.8 L1482.1 1288.3 L1486.7 1288.8 L1491.3 1289.5 L1495.9 1290.2 L1500.4 1290.9 L1505.0 1291.6 L1509.5 1292.4 L1514.0 1293.3 L1518.6 1294.2 L1523.1 1295.1 L1527.6 1296.0 L1532.1 1296.8 L1536.7 1297.6 L1541.2 1298.4 L1545.8 1299.1 L1550.3 1299.9 L1554.9 1300.5 L1559.5 1301.1 L1564.0 1301.7 L1568.6 1302.2 L1573.2 1302.7 L1577.8 1303.2 L1582.4 1303.6 L1587.0 1303.9 L1591.6 1304.2 L1596.2 1304.4 L1600.8 1304.5 L1605.4 1304.6 L1610.0 1304.7 L1614.6 1304.9 L1619.2 1305.1 L1623.8 1305.5 L1628.4 1306.1 L1632.9 1306.7 L1637.5 1307.5 L1642.1 1308.2 L1646.6 1308.8 L1651.2 1309.2 L1655.8 1309.7 L1660.4 1310.1 L1665.0 1310.5" fill="none" stroke="#ff0000" stroke-width="6" stroke-linejoin="round" stroke-dasharray="6 13.75 26 13.5" stroke-dashoffset="29.8" clip-path="url(#cm)"/>
<path d="M452.0 22.0 L452.1 26.8 L452.3 31.6 L452.5 36.4 L452.6 41.2 L452.8 46.0 L453.0 50.8 L453.1 55.6 L453.3 60.3 L453.5 65.1 L453.6 69.9 L453.8 74.7 L453.9 79.5 L454.1 84.3 L454.3 89.1 L454.4 93.9 L454.6 98.7 L454.7 103.5 L454.9 108.3 L455.0 113.1 L455.2 117.9 L455.4 122.7 L455.5 127.5 L455.7 132.2 L455.8 137.0 L456.0 141.8 L456.2 146.6 L456.3 151.4 L456.5 156.2 L456.7 161.0 L456.8 165.8 L457.0 170.6 L457.2 175.4 L457.3 180.2 L457.5 185.0 L457.7 189.8 L457.9 194.6 L458.1 199.3 L458.2 204.1 L458.4 208.9 L458.6 213.7 L458.8 218.5 L459.0 223.3 L459.2 228.1 L459.4 232.9 L459.6 237.7 L459.8 242.5 L460.0 247.3 L460.2 252.0 L460.5 256.8 L460.7 261.6 L460.9 266.4 L461.1 271.2 L461.3 276.0 L461.5 280.8 L461.8 285.6 L462.0 290.4 L462.2 295.2 L462.5 300.0 L462.7 304.7 L462.9 309.5 L463.2 314.3 L463.4 319.1 L463.6 323.9 L463.9 328.7 L464.1 333.5 L464.3 338.3 L464.6 343.1 L464.8 347.9 L465.1 352.6 L465.3 357.4 L465.5 362.2 L465.8 367.0 L466.0 371.8 L466.3 376.6 L466.5 381.4 L466.8 386.2 L467.0 391.0 L467.3 395.8 L467.5 400.5 L467.8 405.3 L468.0 410.1 L468.3 414.9 L468.5 419.7 L468.8 424.5 L469.0 429.3 L469.3 434.1 L469.5 438.9 L469.8 443.6 L470.1 448.4 L470.3 453.2 L470.6 458.0 L470.9 462.8 L471.1 467.6 L471.4 472.4 L471.7 477.2 L472.0 482.0 L472.3 486.7 L472.6 491.5 L472.9 496.3 L473.2 501.1 L473.5 505.9 L473.8 510.7 L474.1 515.5 L474.4 520.2 L474.7 525.0 L475.0 529.8 L475.4 534.6 L475.7 539.4 L476.0 544.2 L476.3 549.0 L476.7 553.7 L477.0 558.5 L477.3 563.3 L477.7 568.1 L478.0 572.9 L478.4 577.7 L478.7 582.4 L479.0 587.2 L479.4 592.0 L479.7 596.8 L480.1 601.6 L480.5 606.4 L480.8 611.1 L481.2 615.9 L481.6 620.7 L482.0 625.5 L482.4 630.3 L482.8 635.0 L483.2 639.8 L483.7 644.6 L484.1 649.4 L484.6 654.1 L485.1 658.9 L485.6 663.7 L486.1 668.4 L486.6 673.2 L487.1 678.0 L487.6 682.7 L488.2 687.5 L488.7 692.3 L489.2 697.1 L489.7 701.8 L490.2 706.6 L490.7 711.4 L491.2 716.1 L491.7 720.9 L492.2 725.7 L492.6 730.4 L493.1 735.2 L493.6 740.0 L494.0 744.8 L494.5 749.5 L495.0 754.3 L495.5 759.1 L496.0 763.8 L496.6 768.6 L497.1 773.4 L497.7 778.1 L498.2 782.9 L498.8 787.7 L499.3 792.4 L499.9 797.2 L500.4 802.0 L501.0 806.7 L501.5 811.5 L502.0 816.3 L502.6 821.0 L503.1 825.8 L503.6 830.6 L504.1 835.3 L504.7 840.1 L505.2 844.9 L505.8 849.6 L506.4 854.4 L506.9 859.1 L507.5 863.9 L508.1 868.7 L508.8 873.4 L509.4 878.2 L510.0 882.9 L510.7 887.7 L511.4 892.4 L512.0 897.2 L512.7 901.9 L513.4 906.7 L514.2 911.4 L514.9 916.1 L515.6 920.9 L516.4 925.6 L517.1 930.4 L517.9 935.1 L518.7 939.8 L519.5 944.6 L520.3 949.3 L521.1 954.0 L522.0 958.7 L522.8 963.4 L523.7 968.1 L524.6 972.9 L525.5 977.6 L526.4 982.3 L527.4 987.0 L528.3 991.7 L529.3 996.4 L530.3 1001.1 L531.3 1005.8 L532.3 1010.5 L533.3 1015.2 L534.4 1019.8 L535.5 1024.5 L536.6 1029.2 L537.7 1033.8 L538.9 1038.5 L540.1 1043.1 L541.3 1047.8 L542.6 1052.4 L544.0 1057.0 L545.5 1061.5 L547.1 1066.0 L548.8 1070.5 L550.3 1075.1 L551.9 1079.6 L553.3 1084.2 L554.8 1088.7 L556.3 1093.3 L557.9 1097.8 L559.4 1102.4 L561.1 1106.9 L562.7 1111.4 L564.4 1115.9 L566.1 1120.4 L567.9 1124.8 L569.7 1129.3 L571.6 1133.7 L573.5 1138.1 L575.5 1142.4 L577.6 1146.8 L579.6 1151.1 L581.7 1155.4 L583.9 1159.7 L586.0 1164.0 L588.3 1168.2 L590.7 1172.4 L593.2 1176.5 L595.8 1180.4 L598.7 1184.3 L601.6 1188.1 L604.5 1192.0 L607.3 1195.8 L610.0 1199.8 L612.6 1203.9 L615.1 1208.0 L617.8 1212.0 L620.6 1215.8 L623.6 1219.5 L626.7 1223.2 L630.0 1226.7 L633.4 1230.2 L636.9 1233.5 L640.5 1236.6 L644.2 1239.6 L648.0 1242.4 L652.0 1245.1 L656.0 1247.7 L660.1 1250.4 L664.0 1253.1 L667.9 1256.1 L671.7 1259.2 L675.5 1262.2 L679.6 1264.5 L683.9 1266.0 L688.6 1267.2 L693.4 1268.2 L698.1 1269.0 L702.9 1269.9 L707.6 1270.7 L712.4 1271.4 L717.2 1271.8 L721.9 1271.9 L726.8 1271.3 L731.6 1270.3 L736.2 1269.0 L740.4 1267.4 L744.4 1264.8 L748.2 1261.5 L751.8 1258.1 L755.0 1254.7 L758.0 1251.0 L760.9 1247.1 L763.5 1243.1 L766.1 1238.9 L768.6 1234.8 L771.1 1230.7 L773.5 1226.5 L775.8 1222.3 L778.0 1218.1 L780.2 1213.8 L782.3 1209.5 L784.4 1205.2 L786.5 1200.8 L788.4 1196.5 L790.4 1192.1 L792.5 1187.8 L794.5 1183.4 L796.5 1179.0 L798.6 1174.7 L800.7 1170.4 L802.9 1166.1 L805.2 1162.0 L807.7 1157.9 L810.3 1153.8 L813.0 1149.8 L815.8 1145.9 L818.8 1142.1 L821.8 1138.4 L825.1 1134.9 L828.5 1131.5 L832.1 1128.3 L835.9 1125.4 L839.8 1122.6 L844.0 1119.6 L848.3 1117.1 L852.7 1115.8 L857.2 1115.9 L862.0 1116.4 L866.8 1117.1 L871.6 1118.0 L876.4 1118.8 L881.1 1119.6 L885.9 1120.4 L890.6 1121.4 L895.2 1122.6 L899.9 1123.9 L904.5 1125.4 L909.0 1127.1 L913.1 1129.2 L916.8 1132.3 L920.3 1135.8 L923.9 1138.9 L928.0 1141.3 L932.3 1143.1 L936.8 1144.8 L941.4 1146.4 L946.0 1148.1 L950.4 1150.0 L954.8 1151.9 L959.2 1153.9 L963.5 1155.9 L967.9 1158.0 L972.1 1160.2 L976.4 1162.3 L980.8 1164.3 L985.2 1166.1 L989.8 1167.6 L994.3 1169.2 L998.8 1170.8 L1003.4 1172.3 L1008.0 1173.9 L1012.5 1175.5 L1016.9 1177.2 L1021.3 1179.2 L1025.4 1181.5 L1029.5 1184.1 L1033.5 1186.8 L1037.6 1189.2 L1041.8 1191.7 L1045.9 1194.1 L1050.2 1196.4 L1054.5 1198.4 L1058.9 1200.1 L1063.5 1201.7 L1068.1 1203.2 L1072.6 1204.7 L1077.2 1206.2 L1081.7 1207.6 L1086.3 1209.0 L1090.9 1210.4 L1095.5 1211.8 L1100.1 1213.3 L1104.7 1214.7 L1109.2 1216.2 L1113.7 1217.7 L1118.2 1219.4 L1122.7 1221.1 L1127.2 1222.7 L1131.7 1224.4 L1136.2 1226.1 L1140.8 1227.7 L1145.3 1229.1 L1149.9 1230.5 L1154.6 1231.7 L1159.2 1232.9 L1163.9 1234.0 L1168.6 1234.8 L1173.4 1235.5 L1178.1 1236.0 L1182.9 1236.6 L1187.6 1237.4 L1192.3 1238.4 L1197.0 1239.6 L1201.6 1240.9 L1206.2 1242.3 L1210.6 1244.0 L1215.1 1245.8 L1219.6 1247.5 L1224.1 1249.0 L1228.7 1250.4 L1233.3 1251.7 L1238.0 1253.0 L1242.6 1254.2 L1247.3 1255.4 L1251.9 1256.5 L1256.6 1257.5 L1261.3 1258.6 L1266.0 1259.5 L1270.7 1260.5 L1275.4 1261.4 L1280.1 1262.3 L1284.8 1263.2 L1289.5 1264.1 L1294.3 1264.9 L1299.0 1265.8 L1303.7 1266.6 L1308.4 1267.3 L1313.2 1268.1 L1317.9 1268.8 L1322.7 1269.5 L1327.4 1270.2 L1332.2 1270.9 L1336.9 1271.6 L1341.6 1272.3 L1346.4 1273.0 L1351.1 1273.7 L1355.9 1274.5 L1360.6 1275.4 L1365.3 1276.3 L1370.0 1277.4 L1374.6 1278.5 L1379.3 1279.6 L1384.0 1280.6 L1388.7 1281.6 L1393.4 1282.5 L1398.1 1283.4 L1402.8 1284.3 L1407.6 1285.1 L1412.3 1285.8 L1417.0 1286.4 L1421.8 1286.9 L1426.6 1287.4 L1431.4 1287.8 L1436.1 1288.2 L1440.9 1288.7 L1445.7 1289.2 L1450.5 1289.7 L1455.2 1290.2 L1460.0 1290.7 L1464.8 1291.1 L1469.6 1291.5 L1474.3 1291.8 L1479.1 1292.1 L1483.9 1292.3 L1488.7 1292.7 L1493.5 1293.0 L1498.2 1293.6 L1503.0 1294.2 L1507.7 1295.0 L1512.5 1295.8 L1517.2 1296.6 L1521.9 1297.5 L1526.6 1298.4 L1531.3 1299.3 L1536.0 1300.2 L1540.8 1301.0 L1545.5 1301.6 L1550.3 1302.2 L1555.0 1302.8 L1559.8 1303.3 L1564.6 1303.8 L1569.4 1304.3 L1574.1 1304.7 L1578.9 1305.0 L1583.7 1305.3 L1588.5 1305.6 L1593.3 1305.9 L1598.1 1306.2 L1602.9 1306.5 L1607.6 1306.9 L1612.4 1307.2 L1617.2 1307.6 L1622.0 1307.9 L1626.8 1308.3 L1631.5 1308.7 L1636.3 1309.1 L1641.1 1309.5 L1645.9 1309.9 L1650.7 1310.3 L1655.4 1310.7 L1660.2 1311.1 L1665.0 1311.5" fill="none" stroke="#008b00" stroke-width="6" stroke-linejoin="round" stroke-dasharray="6 13.75 26 13.5 6 13.75" stroke-dashoffset="49.7" clip-path="url(#cm)"/>
</g>
<g id="inset-curves">
<path d="M924.0 860.7 L926.1 860.7 L928.2 860.7 L930.3 860.7 L932.4 860.7 L934.5 860.7 L936.5 860.7 L938.6 860.7 L940.7 860.7 L942.8 860.7 L944.9 860.7 L947.0 860.7 L949.1 860.7 L951.2 860.7 L953.3 860.7 L955.4 860.7 L957.4 860.7 L959.5 860.7 L961.6 860.7 L963.7 860.7 L965.8 860.7 L967.9 860.8 L970.0 860.8 L972.1 860.8 L974.2 860.8 L976.3 860.8 L978.3 860.8 L980.4 860.8 L982.5 860.8 L984.6 860.8 L986.7 860.8 L988.8 860.8 L990.9 860.8 L993.0 860.8 L995.1 860.8 L997.1 860.8 L999.2 860.9 L1001.3 860.9 L1003.4 860.9 L1005.5 860.9 L1007.6 860.9 L1009.7 860.9 L1011.8 860.9 L1013.9 860.9 L1016.0 860.9 L1018.0 860.9 L1020.1 861.0 L1022.2 861.0 L1024.3 861.0 L1026.4 861.0 L1028.5 861.0 L1030.6 861.0 L1032.7 861.0 L1034.8 861.0 L1036.8 861.1 L1038.9 861.1 L1041.0 861.1 L1043.1 861.1 L1045.2 861.1 L1047.3 861.1 L1049.4 861.1 L1051.5 861.1 L1053.6 861.2 L1055.6 861.2 L1057.7 861.2 L1059.8 861.2 L1061.9 861.2 L1064.0 861.2 L1066.1 861.3 L1068.2 861.3 L1070.3 861.3 L1072.4 861.3 L1074.4 861.3 L1076.5 861.3 L1078.6 861.4 L1080.7 861.4 L1082.8 861.4 L1084.9 861.4 L1087.0 861.4 L1089.1 861.5 L1091.2 861.5 L1093.2 861.5 L1095.3 861.5 L1097.4 861.5 L1099.5 861.6 L1101.6 861.6 L1103.7 861.6 L1105.8 861.6 L1107.9 861.6 L1110.0 861.7 L1112.0 861.7 L1114.1 861.7 L1116.2 861.7 L1118.3 861.7 L1120.4 861.8 L1122.5 861.8 L1124.6 861.8 L1126.7 861.8 L1128.8 861.9 L1130.8 861.9 L1132.9 861.9 L1135.0 861.9 L1137.1 862.0 L1139.2 862.0 L1141.3 862.0 L1143.4 862.1 L1145.5 862.1 L1147.6 862.2 L1149.6 862.2 L1151.7 862.3 L1153.8 862.4 L1155.9 862.4 L1158.0 862.5 L1160.1 862.6 L1162.2 862.6 L1164.3 862.7 L1166.4 862.8 L1168.4 862.9 L1170.5 863.0 L1172.6 863.1 L1174.7 863.2 L1176.8 863.3 L1178.9 863.4 L1181.0 863.5 L1183.1 863.6 L1185.1 863.7 L1187.2 863.8 L1189.3 863.9 L1191.4 864.0 L1193.5 864.1 L1195.6 864.3 L1197.7 864.4 L1199.7 864.5 L1201.8 864.6 L1203.9 864.8 L1206.0 864.9 L1208.1 865.1 L1210.1 865.2 L1212.2 865.4 L1214.3 865.6 L1216.4 865.8 L1218.5 866.0 L1220.5 866.2 L1222.6 866.5 L1224.7 866.7 L1226.8 866.9 L1228.9 867.2 L1230.9 867.4 L1233.0 867.7 L1235.1 867.9 L1237.2 868.2 L1239.2 868.5 L1241.3 868.7 L1243.4 869.0 L1245.5 869.2 L1247.5 869.5 L1249.6 869.8 L1251.7 870.0 L1253.8 870.3 L1255.8 870.6 L1257.9 870.8 L1260.0 871.1 L1262.1 871.4 L1264.1 871.7 L1266.2 872.0 L1268.3 872.4 L1270.3 872.7 L1272.4 873.1 L1274.4 873.5 L1276.4 873.9 L1278.4 874.4 L1280.5 874.9 L1282.5 875.5 L1284.5 876.1 L1286.5 876.7 L1288.4 877.4 L1290.4 878.1 L1292.4 878.8 L1294.4 879.6 L1296.3 880.3 L1298.3 881.1 L1300.2 881.8 L1302.2 882.6 L1304.1 883.3 L1306.1 884.1 L1308.0 884.8 L1310.0 885.6 L1311.9 886.4 L1313.8 887.2 L1315.8 888.1 L1317.7 888.9 L1319.6 889.8 L1321.5 890.6 L1323.4 891.5 L1325.3 892.4 L1327.2 893.3 L1329.0 894.2 L1330.9 895.1 L1332.8 896.0 L1334.6 897.0 L1336.4 898.0 L1338.3 899.0 L1340.1 900.1 L1341.9 901.1 L1343.7 902.2 L1345.5 903.2 L1347.3 904.3 L1349.1 905.3 L1350.9 906.4 L1352.8 907.4 L1354.6 908.5 L1356.4 909.5 L1358.3 910.4 L1360.1 911.4 L1362.0 912.3 L1363.8 913.3 L1365.7 914.2 L1367.6 915.1 L1369.5 916.0 L1371.4 916.9 L1373.3 917.8 L1375.2 918.6 L1377.1 919.5 L1379.0 920.4 L1380.9 921.2 L1382.8 922.1 L1384.7 922.9 L1386.6 923.7 L1388.6 924.5 L1390.5 925.3 L1392.4 926.1 L1394.4 926.9 L1396.3 927.7 L1398.2 928.5 L1400.2 929.2 L1402.1 930.0 L1404.1 930.8 L1406.0 931.5 L1408.0 932.2 L1410.0 933.0 L1411.9 933.7 L1413.9 934.4 L1415.9 935.0 L1417.8 935.7 L1419.8 936.4 L1421.8 937.0 L1423.8 937.7 L1425.8 938.3 L1427.8 939.0 L1429.8 939.6 L1431.8 940.2 L1433.8 940.8 L1435.8 941.3 L1437.8 941.9 L1439.8 942.4 L1441.9 942.9 L1443.9 943.4 L1445.9 943.9 L1448.0 944.4 L1450.0 944.9 L1452.0 945.3 L1454.1 945.8 L1456.1 946.3 L1458.2 946.7 L1460.2 947.1 L1462.3 947.6 L1464.3 947.9 L1466.4 948.3 L1468.5 948.7 L1470.5 949.0 L1472.6 949.3 L1474.6 949.5 L1476.7 949.7 L1478.8 949.9 L1480.8 950.2 L1482.9 950.4 L1485.0 950.6 L1487.1 950.8 L1489.1 951.0 L1491.2 951.2 L1493.3 951.4 L1495.3 951.6 L1497.4 951.8 L1499.5 951.9 L1501.6 952.1 L1503.7 952.3 L1505.8 952.4 L1507.8 952.6 L1509.9 952.7 L1512.0 952.8 L1514.1 953.0 L1516.2 953.1 L1518.3 953.2 L1520.4 953.3 L1522.5 953.3 L1524.6 953.4 L1526.7 953.4 L1528.8 953.5 L1530.9 953.5 L1533.0 953.5" fill="none" stroke="#000" stroke-width="6" stroke-linejoin="round" clip-path="url(#ci)"/>
<path d="M924.0 805.8 L926.2 805.8 L928.3 805.8 L930.5 805.8 L932.7 805.8 L934.8 805.8 L937.0 805.8 L939.2 805.8 L941.3 805.8 L943.5 805.8 L945.7 805.8 L947.8 805.8 L950.0 805.8 L952.1 805.8 L954.3 805.8 L956.5 805.8 L958.6 805.8 L960.8 805.8 L963.0 805.8 L965.1 805.8 L967.3 805.8 L969.5 805.8 L971.6 805.8 L973.8 805.8 L976.0 805.8 L978.1 805.8 L980.3 805.8 L982.5 805.8 L984.6 805.8 L986.8 805.8 L988.9 805.8 L991.1 805.8 L993.3 805.8 L995.4 805.8 L997.6 805.8 L999.8 805.8 L1001.9 805.8 L1004.1 805.8 L1006.3 805.8 L1008.4 805.8 L1010.6 805.8 L1012.8 805.8 L1014.9 805.8 L1017.1 805.8 L1019.3 805.8 L1021.4 805.8 L1023.6 805.8 L1025.7 805.8 L1027.9 805.8 L1030.1 805.8 L1032.2 805.8 L1034.4 805.8 L1036.6 805.8 L1038.7 805.8 L1040.9 805.8 L1043.1 805.8 L1045.2 805.8 L1047.4 805.8 L1049.5 805.8 L1051.7 805.8 L1053.9 805.8 L1056.0 805.8 L1058.2 805.8 L1060.4 805.8 L1062.5 805.8 L1064.7 805.8 L1066.9 805.8 L1069.0 805.8 L1071.2 805.8 L1073.4 805.8 L1075.5 805.8 L1077.7 805.8 L1079.8 805.8 L1082.0 805.8 L1084.2 805.8 L1086.3 805.8 L1088.5 805.8 L1090.7 805.8 L1092.8 805.8 L1095.0 805.9 L1097.2 805.9 L1099.3 806.0 L1101.5 806.0 L1103.6 806.1 L1105.8 806.2 L1108.0 806.2 L1110.1 806.3 L1112.3 806.4 L1114.5 806.5 L1116.6 806.6 L1118.8 806.7 L1121.0 806.8 L1123.1 806.9 L1125.3 807.0 L1127.4 807.1 L1129.6 807.2 L1131.8 807.4 L1133.9 807.5 L1136.1 807.6 L1138.2 807.7 L1140.4 807.9 L1142.6 808.0 L1144.7 808.2 L1146.9 808.4 L1149.0 808.6 L1151.2 808.8 L1153.3 809.0 L1155.5 809.2 L1157.7 809.4 L1159.8 809.7 L1162.0 809.9 L1164.1 810.1 L1166.3 810.4 L1168.4 810.6 L1170.6 810.9 L1172.7 811.2 L1174.9 811.4 L1177.0 811.7 L1179.1 812.0 L1181.3 812.3 L1183.4 812.6 L1185.6 812.9 L1187.7 813.2 L1189.9 813.5 L1192.0 813.9 L1194.1 814.3 L1196.3 814.6 L1198.4 815.0 L1200.5 815.4 L1202.7 815.8 L1204.8 816.2 L1206.9 816.7 L1209.0 817.2 L1211.1 817.6 L1213.2 818.2 L1215.3 818.7 L1217.4 819.3 L1219.5 819.9 L1221.6 820.5 L1223.6 821.2 L1225.6 821.9 L1227.7 822.6 L1229.7 823.4 L1231.7 824.2 L1233.7 825.1 L1235.7 825.9 L1237.7 826.8 L1239.6 827.7 L1241.6 828.7 L1243.6 829.6 L1245.5 830.6 L1247.5 831.5 L1249.4 832.5 L1251.3 833.5 L1253.2 834.4 L1255.1 835.5 L1257.1 836.5 L1259.0 837.5 L1260.9 838.6 L1262.7 839.6 L1264.6 840.7 L1266.5 841.8 L1268.4 842.9 L1270.2 844.0 L1272.1 845.2 L1273.9 846.3 L1275.8 847.5 L1277.6 848.6 L1279.4 849.8 L1281.2 851.0 L1283.0 852.2 L1284.8 853.4 L1286.5 854.6 L1288.3 855.9 L1290.0 857.2 L1291.8 858.5 L1293.5 859.8 L1295.2 861.1 L1296.9 862.5 L1298.6 863.8 L1300.3 865.2 L1302.0 866.5 L1303.7 867.9 L1305.3 869.3 L1307.0 870.6 L1308.7 872.0 L1310.4 873.4 L1312.1 874.8 L1313.7 876.1 L1315.4 877.5 L1317.1 878.9 L1318.7 880.3 L1320.4 881.7 L1322.0 883.1 L1323.6 884.6 L1325.3 886.0 L1326.9 887.4 L1328.5 888.9 L1330.1 890.3 L1331.8 891.7 L1333.4 893.1 L1335.0 894.6 L1336.7 896.0 L1338.3 897.4 L1340.0 898.7 L1341.7 900.1 L1343.4 901.4 L1345.1 902.8 L1346.8 904.1 L1348.5 905.4 L1350.2 906.8 L1351.9 908.1 L1353.6 909.5 L1355.4 910.8 L1357.1 912.1 L1358.9 913.4 L1360.6 914.7 L1362.4 916.0 L1364.1 917.2 L1365.9 918.5 L1367.7 919.7 L1369.6 920.8 L1371.4 921.9 L1373.2 923.0 L1375.1 924.1 L1377.0 925.1 L1378.9 926.1 L1380.8 927.0 L1382.7 928.0 L1384.7 928.9 L1386.6 929.8 L1388.6 930.7 L1390.6 931.6 L1392.6 932.5 L1394.6 933.3 L1396.7 934.1 L1398.7 934.9 L1400.7 935.7 L1402.8 936.5 L1404.8 937.2 L1406.9 937.9 L1408.9 938.6 L1411.0 939.2 L1413.0 939.8 L1415.1 940.4 L1417.2 941.1 L1419.2 941.7 L1421.3 942.2 L1423.4 942.8 L1425.5 943.4 L1427.6 943.9 L1429.7 944.5 L1431.9 945.0 L1434.0 945.5 L1436.1 946.0 L1438.2 946.4 L1440.3 946.8 L1442.5 947.3 L1444.6 947.6 L1446.7 948.0 L1448.9 948.3 L1451.0 948.6 L1453.1 948.9 L1455.3 949.1 L1457.4 949.4 L1459.6 949.6 L1461.7 949.8 L1463.9 950.0 L1466.0 950.2 L1468.2 950.4 L1470.4 950.6 L1472.5 950.8 L1474.7 950.9 L1476.8 951.1 L1479.0 951.3 L1481.2 951.4 L1483.3 951.6 L1485.5 951.8 L1487.6 952.0 L1489.8 952.1 L1492.0 952.3 L1494.1 952.4 L1496.3 952.6 L1498.4 952.8 L1500.6 952.9 L1502.8 953.1 L1504.9 953.2 L1507.1 953.4 L1509.2 953.5 L1511.4 953.7 L1513.6 953.8 L1515.7 954.0 L1517.9 954.1 L1520.0 954.2 L1522.2 954.4 L1524.4 954.5 L1526.5 954.6 L1528.7 954.8 L1530.8 954.9 L1533.0 955.0" fill="none" stroke="#0000ff" stroke-width="6" stroke-linejoin="round" stroke-dasharray="26 13.5" stroke-dashoffset="0" clip-path="url(#ci)"/>
<path d="M924.0 650.8 L926.5 650.8 L928.9 650.8 L931.4 650.8 L933.9 650.8 L936.3 650.8 L938.8 650.8 L941.3 650.8 L943.7 650.8 L946.2 650.8 L948.7 650.8 L951.2 650.8 L953.6 650.8 L956.1 650.8 L958.6 650.8 L961.0 650.8 L963.5 650.9 L966.0 650.9 L968.4 651.0 L970.9 651.1 L973.4 651.2 L975.8 651.2 L978.3 651.3 L980.8 651.4 L983.2 651.4 L985.7 651.5 L988.2 651.5 L990.6 651.6 L993.1 651.6 L995.6 651.7 L998.0 651.7 L1000.5 651.7 L1003.0 651.8 L1005.4 651.8 L1007.9 651.9 L1010.4 651.9 L1012.8 652.0 L1015.3 652.1 L1017.8 652.1 L1020.2 652.2 L1022.7 652.3 L1025.2 652.5 L1027.6 652.6 L1030.1 652.7 L1032.6 652.9 L1035.0 653.0 L1037.5 653.1 L1040.0 653.3 L1042.4 653.4 L1044.9 653.6 L1047.4 653.8 L1049.8 653.9 L1052.3 654.1 L1054.7 654.2 L1057.2 654.4 L1059.7 654.6 L1062.1 654.8 L1064.6 655.0 L1067.1 655.2 L1069.5 655.5 L1072.0 655.7 L1074.4 655.9 L1076.9 656.2 L1079.3 656.5 L1081.8 656.8 L1084.2 657.1 L1086.7 657.5 L1089.1 657.8 L1091.6 658.2 L1094.0 658.6 L1096.5 659.1 L1098.9 659.5 L1101.3 660.0 L1103.7 660.5 L1106.1 661.0 L1108.5 661.6 L1110.9 662.2 L1113.2 662.9 L1115.6 663.6 L1118.0 664.4 L1120.3 665.2 L1122.7 666.0 L1125.0 666.8 L1127.3 667.7 L1129.6 668.5 L1131.9 669.4 L1134.2 670.3 L1136.5 671.2 L1138.8 672.2 L1141.0 673.2 L1143.3 674.3 L1145.6 675.3 L1147.8 676.5 L1150.0 677.6 L1152.2 678.8 L1154.3 680.0 L1156.4 681.2 L1158.5 682.4 L1160.6 683.7 L1162.6 685.1 L1164.6 686.5 L1166.7 688.0 L1168.6 689.5 L1170.6 691.0 L1172.5 692.6 L1174.4 694.2 L1176.3 695.8 L1178.2 697.5 L1180.0 699.1 L1181.8 700.8 L1183.6 702.5 L1185.3 704.2 L1187.0 705.9 L1188.7 707.7 L1190.4 709.5 L1192.1 711.4 L1193.7 713.2 L1195.4 715.1 L1197.0 717.0 L1198.5 718.9 L1200.1 720.8 L1201.7 722.7 L1203.2 724.6 L1204.7 726.6 L1206.2 728.5 L1207.7 730.5 L1209.2 732.5 L1210.6 734.5 L1212.1 736.5 L1213.5 738.5 L1214.9 740.6 L1216.3 742.6 L1217.7 744.6 L1219.1 746.7 L1220.5 748.7 L1221.9 750.7 L1223.3 752.8 L1224.6 754.9 L1225.9 756.9 L1227.3 759.0 L1228.6 761.1 L1229.9 763.2 L1231.3 765.3 L1232.6 767.4 L1233.9 769.5 L1235.2 771.5 L1236.5 773.6 L1237.8 775.7 L1239.1 777.9 L1240.4 780.0 L1241.6 782.1 L1242.9 784.2 L1244.2 786.3 L1245.4 788.4 L1246.7 790.5 L1248.0 792.7 L1249.3 794.8 L1250.5 796.9 L1251.8 799.0 L1253.1 801.1 L1254.4 803.2 L1255.7 805.3 L1256.9 807.4 L1258.2 809.5 L1259.5 811.6 L1260.8 813.8 L1262.1 815.9 L1263.4 818.0 L1264.6 820.1 L1265.9 822.2 L1267.2 824.3 L1268.4 826.5 L1269.7 828.6 L1270.9 830.7 L1272.1 832.9 L1273.4 835.0 L1274.6 837.1 L1275.9 839.2 L1277.2 841.4 L1278.5 843.5 L1279.8 845.5 L1281.1 847.6 L1282.4 849.7 L1283.7 851.8 L1285.1 853.9 L1286.4 856.0 L1287.8 858.0 L1289.1 860.1 L1290.5 862.1 L1291.9 864.2 L1293.3 866.2 L1294.7 868.2 L1296.2 870.2 L1297.6 872.2 L1299.1 874.2 L1300.6 876.1 L1302.1 878.1 L1303.6 880.0 L1305.2 882.0 L1306.7 883.9 L1308.3 885.8 L1309.9 887.7 L1311.5 889.6 L1313.2 891.4 L1314.8 893.2 L1316.5 895.0 L1318.2 896.8 L1319.9 898.6 L1321.6 900.4 L1323.3 902.2 L1325.1 903.9 L1326.9 905.7 L1328.7 907.4 L1330.5 909.0 L1332.4 910.7 L1334.2 912.3 L1336.1 913.9 L1338.0 915.4 L1340.0 916.9 L1341.9 918.4 L1343.9 919.8 L1346.0 921.3 L1348.0 922.7 L1350.1 924.1 L1352.2 925.4 L1354.3 926.7 L1356.5 927.9 L1358.6 929.1 L1360.8 930.2 L1363.0 931.3 L1365.2 932.3 L1367.4 933.4 L1369.7 934.3 L1372.0 935.3 L1374.3 936.2 L1376.6 937.1 L1378.9 938.0 L1381.3 938.8 L1383.7 939.6 L1386.0 940.3 L1388.4 941.0 L1390.7 941.6 L1393.1 942.3 L1395.5 942.9 L1397.9 943.4 L1400.3 944.0 L1402.7 944.5 L1405.2 945.0 L1407.6 945.5 L1410.0 945.9 L1412.5 946.4 L1414.9 946.8 L1417.3 947.2 L1419.8 947.6 L1422.2 947.9 L1424.6 948.3 L1427.1 948.7 L1429.5 949.0 L1432.0 949.3 L1434.4 949.7 L1436.9 950.0 L1439.3 950.3 L1441.8 950.5 L1444.3 950.8 L1446.7 951.0 L1449.2 951.2 L1451.6 951.4 L1454.1 951.6 L1456.5 951.8 L1459.0 951.9 L1461.5 952.1 L1463.9 952.3 L1466.4 952.4 L1468.8 952.6 L1471.3 952.7 L1473.8 952.9 L1476.2 953.0 L1478.7 953.2 L1481.1 953.3 L1483.6 953.5 L1486.1 953.6 L1488.5 953.7 L1491.0 953.9 L1493.5 954.0 L1495.9 954.1 L1498.4 954.2 L1500.9 954.3 L1503.3 954.4 L1505.8 954.5 L1508.3 954.6 L1510.7 954.6 L1513.2 954.7 L1515.7 954.8 L1518.2 954.8 L1520.6 954.9 L1523.1 954.9 L1525.6 955.0 L1528.0 955.0 L1530.5 955.0 L1533.0 955.0" fill="none" stroke="#ff0000" stroke-width="6" stroke-linejoin="round" stroke-dasharray="6 13.75 26 13.5" stroke-dashoffset="0" clip-path="url(#ci)"/>
<path d="M924.0 388.7 L927.1 389.0 L930.2 389.4 L933.3 389.8 L936.4 390.2 L939.5 390.6 L942.6 391.0 L945.7 391.4 L948.8 391.9 L951.9 392.3 L955.0 392.8 L958.0 393.3 L961.1 393.8 L964.2 394.3 L967.3 394.9 L970.3 395.5 L973.4 396.0 L976.5 396.6 L979.6 397.2 L982.6 397.7 L985.7 398.2 L988.8 398.7 L991.9 399.1 L995.0 399.5 L998.1 399.9 L1001.2 400.4 L1004.3 400.9 L1007.3 401.5 L1010.3 402.2 L1013.4 402.9 L1016.4 403.7 L1019.4 404.6 L1022.4 405.4 L1025.4 406.3 L1028.4 407.3 L1031.4 408.2 L1034.4 409.1 L1037.4 410.1 L1040.3 411.1 L1043.3 412.1 L1046.3 413.1 L1049.2 414.2 L1052.1 415.4 L1055.0 416.5 L1057.9 417.8 L1060.6 419.1 L1063.4 420.5 L1066.1 422.1 L1068.8 423.7 L1071.4 425.5 L1074.0 427.3 L1076.5 429.1 L1078.9 431.0 L1081.3 433.0 L1083.7 435.1 L1086.0 437.2 L1088.2 439.4 L1090.4 441.6 L1092.6 443.9 L1094.7 446.2 L1096.9 448.5 L1098.9 450.8 L1101.0 453.2 L1103.0 455.6 L1105.0 458.0 L1106.9 460.4 L1108.8 462.9 L1110.7 465.4 L1112.6 467.9 L1114.4 470.5 L1116.2 473.0 L1117.9 475.6 L1119.6 478.2 L1121.3 480.8 L1123.0 483.5 L1124.6 486.2 L1126.1 488.9 L1127.6 491.6 L1129.1 494.4 L1130.6 497.1 L1132.0 499.9 L1133.4 502.7 L1134.8 505.5 L1136.1 508.3 L1137.4 511.2 L1138.8 514.0 L1140.1 516.8 L1141.3 519.7 L1142.6 522.6 L1143.8 525.4 L1145.0 528.3 L1146.2 531.2 L1147.4 534.1 L1148.5 537.0 L1149.7 539.9 L1150.9 542.8 L1152.1 545.7 L1153.3 548.5 L1154.5 551.4 L1155.7 554.3 L1156.9 557.2 L1158.1 560.1 L1159.2 563.0 L1160.3 565.9 L1161.4 568.8 L1162.4 571.8 L1163.4 574.7 L1164.4 577.7 L1165.4 580.7 L1166.4 583.6 L1167.4 586.6 L1168.4 589.5 L1169.4 592.5 L1170.4 595.5 L1171.4 598.4 L1172.4 601.4 L1173.4 604.3 L1174.4 607.3 L1175.4 610.3 L1176.4 613.2 L1177.3 616.2 L1178.3 619.2 L1179.3 622.1 L1180.3 625.1 L1181.3 628.1 L1182.2 631.0 L1183.2 634.0 L1184.2 637.0 L1185.2 639.9 L1186.2 642.9 L1187.2 645.8 L1188.1 648.8 L1189.1 651.8 L1190.1 654.7 L1191.1 657.7 L1192.1 660.7 L1193.1 663.6 L1194.0 666.6 L1195.0 669.6 L1195.9 672.5 L1196.9 675.5 L1197.8 678.5 L1198.8 681.5 L1199.7 684.5 L1200.6 687.4 L1201.6 690.4 L1202.6 693.4 L1203.5 696.3 L1204.5 699.3 L1205.5 702.3 L1206.5 705.2 L1207.5 708.2 L1208.5 711.1 L1209.4 714.1 L1210.4 717.1 L1211.3 720.1 L1212.2 723.1 L1213.2 726.0 L1214.1 729.0 L1215.0 732.0 L1216.0 735.0 L1216.9 738.0 L1217.9 740.9 L1218.9 743.9 L1219.9 746.8 L1220.9 749.8 L1221.9 752.7 L1223.0 755.7 L1224.0 758.6 L1225.1 761.6 L1226.1 764.5 L1227.2 767.4 L1228.3 770.4 L1229.5 773.3 L1230.6 776.2 L1231.8 779.1 L1232.9 782.0 L1234.1 784.9 L1235.2 787.8 L1236.3 790.7 L1237.4 793.7 L1238.4 796.6 L1239.5 799.5 L1240.6 802.5 L1241.6 805.4 L1242.7 808.3 L1243.9 811.2 L1245.0 814.1 L1246.2 817.0 L1247.4 819.9 L1248.7 822.7 L1250.0 825.6 L1251.3 828.4 L1252.6 831.3 L1253.9 834.1 L1255.3 836.9 L1256.7 839.7 L1258.1 842.5 L1259.5 845.3 L1261.0 848.0 L1262.5 850.7 L1264.1 853.5 L1265.6 856.2 L1267.2 858.8 L1268.8 861.5 L1270.4 864.2 L1272.0 866.9 L1273.7 869.6 L1275.3 872.2 L1277.0 874.9 L1278.8 877.5 L1280.5 880.0 L1282.3 882.5 L1284.2 885.0 L1286.1 887.5 L1288.1 889.9 L1290.1 892.3 L1292.2 894.7 L1294.3 897.0 L1296.4 899.3 L1298.6 901.6 L1300.8 903.8 L1303.0 905.9 L1305.3 908.0 L1307.7 910.1 L1310.1 912.1 L1312.5 914.1 L1315.0 915.9 L1317.6 917.7 L1320.1 919.5 L1322.8 921.2 L1325.4 922.8 L1328.1 924.4 L1330.8 926.0 L1333.6 927.5 L1336.4 929.0 L1339.2 930.4 L1342.0 931.7 L1344.8 933.0 L1347.7 934.2 L1350.5 935.4 L1353.5 936.6 L1356.4 937.8 L1359.4 938.8 L1362.3 939.9 L1365.3 940.8 L1368.3 941.6 L1371.3 942.3 L1374.3 943.0 L1377.4 943.6 L1380.4 944.3 L1383.5 944.8 L1386.5 945.4 L1389.6 945.9 L1392.7 946.4 L1395.8 946.9 L1398.9 947.4 L1402.0 947.8 L1405.2 948.2 L1408.3 948.6 L1411.4 948.9 L1414.5 949.3 L1417.6 949.6 L1420.7 949.8 L1423.8 950.1 L1426.9 950.3 L1430.0 950.6 L1433.2 950.8 L1436.3 951.0 L1439.4 951.2 L1442.5 951.4 L1445.6 951.5 L1448.8 951.7 L1451.9 951.9 L1455.0 952.0 L1458.1 952.2 L1461.2 952.3 L1464.3 952.5 L1467.5 952.6 L1470.6 952.8 L1473.7 952.9 L1476.8 953.1 L1479.9 953.2 L1483.1 953.4 L1486.2 953.5 L1489.3 953.6 L1492.4 953.8 L1495.5 953.9 L1498.7 954.0 L1501.8 954.1 L1504.9 954.2 L1508.0 954.3 L1511.1 954.4 L1514.3 954.5 L1517.4 954.6 L1520.5 954.7 L1523.6 954.8 L1526.8 954.9 L1529.9 954.9 L1533.0 955.0" fill="none" stroke="#008b00" stroke-width="6" stroke-linejoin="round" stroke-dasharray="6 13.75 26 13.5 6 13.75" stroke-dashoffset="0" clip-path="url(#ci)"/>
</g>
<g id="main-axes" shape-rendering="crispEdges">
<line x1="381.00" y1="1369.00" x2="381.00" y2="1335.00" stroke="#000" stroke-width="6"/>
<line x1="381.00" y1="52.00" x2="381.00" y2="86.00" stroke="#000" stroke-width="6"/>
<line x1="461.00" y1="1369.00" x2="461.00" y2="1352.00" stroke="#000" stroke-width="6"/>
<line x1="461.00" y1="52.00" x2="461.00" y2="69.00" stroke="#000" stroke-width="6"/>
<line x1="541.00" y1="1369.00" x2="541.00" y2="1352.00" stroke="#000" stroke-width="6"/>
<line x1="541.00" y1="52.00" x2="541.00" y2="69.00" stroke="#000" stroke-width="6"/>
<line x1="622.00" y1="1369.00" x2="622.00" y2="1352.00" stroke="#000" stroke-width="6"/>
<line x1="622.00" y1="52.00" x2="622.00" y2="69.00" stroke="#000" stroke-width="6"/>
<line x1="702.00" y1="1369.00" x2="702.00" y2="1335.00" stroke="#000" stroke-width="6"/>
<line x1="702.00" y1="52.00" x2="702.00" y2="86.00" stroke="#000" stroke-width="6"/>
<line x1="782.00" y1="1369.00" x2="782.00" y2="1352.00" stroke="#000" stroke-width="6"/>
<line x1="782.00" y1="52.00" x2="782.00" y2="69.00" stroke="#000" stroke-width="6"/>
<line x1="862.00" y1="1369.00" x2="862.00" y2="1352.00" stroke="#000" stroke-width="6"/>
<line x1="862.00" y1="52.00" x2="862.00" y2="69.00" stroke="#000" stroke-width="6"/>
<line x1="943.00" y1="1369.00" x2="943.00" y2="1352.00" stroke="#000" stroke-width="6"/>
<line x1="943.00" y1="52.00" x2="943.00" y2="69.00" stroke="#000" stroke-width="6"/>
<line x1="1023.00" y1="1369.00" x2="1023.00" y2="1335.00" stroke="#000" stroke-width="6"/>
<line x1="1023.00" y1="52.00" x2="1023.00" y2="86.00" stroke="#000" stroke-width="6"/>
<line x1="1103.00" y1="1369.00" x2="1103.00" y2="1352.00" stroke="#000" stroke-width="6"/>
<line x1="1103.00" y1="52.00" x2="1103.00" y2="69.00" stroke="#000" stroke-width="6"/>
<line x1="1183.00" y1="1369.00" x2="1183.00" y2="1352.00" stroke="#000" stroke-width="6"/>
<line x1="1183.00" y1="52.00" x2="1183.00" y2="69.00" stroke="#000" stroke-width="6"/>
<line x1="1264.00" y1="1369.00" x2="1264.00" y2="1352.00" stroke="#000" stroke-width="6"/>
<line x1="1264.00" y1="52.00" x2="1264.00" y2="69.00" stroke="#000" stroke-width="6"/>
<line x1="1344.00" y1="1369.00" x2="1344.00" y2="1335.00" stroke="#000" stroke-width="6"/>
<line x1="1344.00" y1="52.00" x2="1344.00" y2="86.00" stroke="#000" stroke-width="6"/>
<line x1="1424.00" y1="1369.00" x2="1424.00" y2="1352.00" stroke="#000" stroke-width="6"/>
<line x1="1424.00" y1="52.00" x2="1424.00" y2="69.00" stroke="#000" stroke-width="6"/>
<line x1="1504.00" y1="1369.00" x2="1504.00" y2="1352.00" stroke="#000" stroke-width="6"/>
<line x1="1504.00" y1="52.00" x2="1504.00" y2="69.00" stroke="#000" stroke-width="6"/>
<line x1="1585.00" y1="1369.00" x2="1585.00" y2="1352.00" stroke="#000" stroke-width="6"/>
<line x1="1585.00" y1="52.00" x2="1585.00" y2="69.00" stroke="#000" stroke-width="6"/>
<line x1="1665.00" y1="1369.00" x2="1665.00" y2="1335.00" stroke="#000" stroke-width="6"/>
<line x1="1665.00" y1="52.00" x2="1665.00" y2="86.00" stroke="#000" stroke-width="6"/>
<line x1="381.00" y1="1369.00" x2="415.00" y2="1369.00" stroke="#000" stroke-width="6"/>
<line x1="1665.00" y1="1369.00" x2="1631.00" y2="1369.00" stroke="#000" stroke-width="6"/>
<line x1="381.00" y1="1303.00" x2="398.00" y2="1303.00" stroke="#000" stroke-width="6"/>
<line x1="1665.00" y1="1303.00" x2="1648.00" y2="1303.00" stroke="#000" stroke-width="6"/>
<line x1="381.00" y1="1237.00" x2="398.00" y2="1237.00" stroke="#000" stroke-width="6"/>
<line x1="1665.00" y1="1237.00" x2="1648.00" y2="1237.00" stroke="#000" stroke-width="6"/>
<line x1="381.00" y1="1171.00" x2="398.00" y2="1171.00" stroke="#000" stroke-width="6"/>
<line x1="1665.00" y1="1171.00" x2="1648.00" y2="1171.00" stroke="#000" stroke-width="6"/>
<line x1="381.00" y1="1106.00" x2="415.00" y2="1106.00" stroke="#000" stroke-width="6"/>
<line x1="1665.00" y1="1106.00" x2="1631.00" y2="1106.00" stroke="#000" stroke-width="6"/>
<line x1="381.00" y1="1040.00" x2="398.00" y2="1040.00" stroke="#000" stroke-width="6"/>
<line x1="1665.00" y1="1040.00" x2="1648.00" y2="1040.00" stroke="#000" stroke-width="6"/>
<line x1="381.00" y1="974.00" x2="398.00" y2="974.00" stroke="#000" stroke-width="6"/>
<line x1="1665.00" y1="974.00" x2="1648.00" y2="974.00" stroke="#000" stroke-width="6"/>
<line x1="381.00" y1="908.00" x2="398.00" y2="908.00" stroke="#000" stroke-width="6"/>
<line x1="1665.00" y1="908.00" x2="1648.00" y2="908.00" stroke="#000" stroke-width="6"/>
<line x1="381.00" y1="842.00" x2="415.00" y2="842.00" stroke="#000" stroke-width="6"/>
<line x1="1665.00" y1="842.00" x2="1631.00" y2="842.00" stroke="#000" stroke-width="6"/>
<line x1="381.00" y1="776.00" x2="398.00" y2="776.00" stroke="#000" stroke-width="6"/>
<line x1="1665.00" y1="776.00" x2="1648.00" y2="776.00" stroke="#000" stroke-width="6"/>
<line x1="381.00" y1="710.00" x2="398.00" y2="710.00" stroke="#000" stroke-width="6"/>
<line x1="1665.00" y1="710.00" x2="1648.00" y2="710.00" stroke="#000" stroke-width="6"/>
<line x1="381.00" y1="645.00" x2="398.00" y2="645.00" stroke="#000" stroke-width="6"/>
<line x1="1665.00" y1="645.00" x2="1648.00" y2="645.00" stroke="#000" stroke-width="6"/>
<line x1="381.00" y1="579.00" x2="415.00" y2="579.00" stroke="#000" stroke-width="6"/>
<line x1="1665.00" y1="579.00" x2="1631.00" y2="579.00" stroke="#000" stroke-width="6"/>
<line x1="381.00" y1="513.00" x2="398.00" y2="513.00" stroke="#000" stroke-width="6"/>
<line x1="1665.00" y1="513.00" x2="1648.00" y2="513.00" stroke="#000" stroke-width="6"/>
<line x1="381.00" y1="447.00" x2="398.00" y2="447.00" stroke="#000" stroke-width="6"/>
<line x1="1665.00" y1="447.00" x2="1648.00" y2="447.00" stroke="#000" stroke-width="6"/>
<line x1="381.00" y1="381.00" x2="398.00" y2="381.00" stroke="#000" stroke-width="6"/>
<line x1="1665.00" y1="381.00" x2="1648.00" y2="381.00" stroke="#000" stroke-width="6"/>
<line x1="381.00" y1="315.00" x2="415.00" y2="315.00" stroke="#000" stroke-width="6"/>
<line x1="1665.00" y1="315.00" x2="1631.00" y2="315.00" stroke="#000" stroke-width="6"/>
<line x1="381.00" y1="250.00" x2="398.00" y2="250.00" stroke="#000" stroke-width="6"/>
<line x1="1665.00" y1="250.00" x2="1648.00" y2="250.00" stroke="#000" stroke-width="6"/>
<line x1="381.00" y1="184.00" x2="398.00" y2="184.00" stroke="#000" stroke-width="6"/>
<line x1="1665.00" y1="184.00" x2="1648.00" y2="184.00" stroke="#000" stroke-width="6"/>
<line x1="381.00" y1="118.00" x2="398.00" y2="118.00" stroke="#000" stroke-width="6"/>
<line x1="1665.00" y1="118.00" x2="1648.00" y2="118.00" stroke="#000" stroke-width="6"/>
<line x1="381.00" y1="52.00" x2="415.00" y2="52.00" stroke="#000" stroke-width="6"/>
<line x1="1665.00" y1="52.00" x2="1631.00" y2="52.00" stroke="#000" stroke-width="6"/>
<rect x="381" y="52" width="1284" height="1317" fill="none" stroke="#000" stroke-width="6"/>
</g>
<g id="inset-axes" shape-rendering="crispEdges">
<line x1="924.00" y1="957.00" x2="924.00" y2="924.00" stroke="#000" stroke-width="6"/>
<line x1="924.00" y1="381.00" x2="924.00" y2="414.00" stroke="#000" stroke-width="6"/>
<line x1="985.00" y1="957.00" x2="985.00" y2="940.00" stroke="#000" stroke-width="6"/>
<line x1="985.00" y1="381.00" x2="985.00" y2="398.00" stroke="#000" stroke-width="6"/>
<line x1="1021.00" y1="957.00" x2="1021.00" y2="940.00" stroke="#000" stroke-width="6"/>
<line x1="1021.00" y1="381.00" x2="1021.00" y2="398.00" stroke="#000" stroke-width="6"/>
<line x1="1046.00" y1="957.00" x2="1046.00" y2="940.00" stroke="#000" stroke-width="6"/>
<line x1="1046.00" y1="381.00" x2="1046.00" y2="398.00" stroke="#000" stroke-width="6"/>
<line x1="1066.00" y1="957.00" x2="1066.00" y2="940.00" stroke="#000" stroke-width="6"/>
<line x1="1066.00" y1="381.00" x2="1066.00" y2="398.00" stroke="#000" stroke-width="6"/>
<line x1="1082.00" y1="957.00" x2="1082.00" y2="940.00" stroke="#000" stroke-width="6"/>
<line x1="1082.00" y1="381.00" x2="1082.00" y2="398.00" stroke="#000" stroke-width="6"/>
<line x1="1096.00" y1="957.00" x2="1096.00" y2="940.00" stroke="#000" stroke-width="6"/>
<line x1="1096.00" y1="381.00" x2="1096.00" y2="398.00" stroke="#000" stroke-width="6"/>
<line x1="1107.00" y1="957.00" x2="1107.00" y2="940.00" stroke="#000" stroke-width="6"/>
<line x1="1107.00" y1="381.00" x2="1107.00" y2="398.00" stroke="#000" stroke-width="6"/>
<line x1="1118.00" y1="957.00" x2="1118.00" y2="940.00" stroke="#000" stroke-width="6"/>
<line x1="1118.00" y1="381.00" x2="1118.00" y2="398.00" stroke="#000" stroke-width="6"/>
<line x1="1127.00" y1="957.00" x2="1127.00" y2="924.00" stroke="#000" stroke-width="6"/>
<line x1="1127.00" y1="381.00" x2="1127.00" y2="414.00" stroke="#000" stroke-width="6"/>
<line x1="1188.00" y1="957.00" x2="1188.00" y2="940.00" stroke="#000" stroke-width="6"/>
<line x1="1188.00" y1="381.00" x2="1188.00" y2="398.00" stroke="#000" stroke-width="6"/>
<line x1="1224.00" y1="957.00" x2="1224.00" y2="940.00" stroke="#000" stroke-width="6"/>
<line x1="1224.00" y1="381.00" x2="1224.00" y2="398.00" stroke="#000" stroke-width="6"/>
<line x1="1249.00" y1="957.00" x2="1249.00" y2="940.00" stroke="#000" stroke-width="6"/>
<line x1="1249.00" y1="381.00" x2="1249.00" y2="398.00" stroke="#000" stroke-width="6"/>
<line x1="1269.00" y1="957.00" x2="1269.00" y2="940.00" stroke="#000" stroke-width="6"/>
<line x1="1269.00" y1="381.00" x2="1269.00" y2="398.00" stroke="#000" stroke-width="6"/>
<line x1="1285.00" y1="957.00" x2="1285.00" y2="940.00" stroke="#000" stroke-width="6"/>
<line x1="1285.00" y1="381.00" x2="1285.00" y2="398.00" stroke="#000" stroke-width="6"/>
<line x1="1299.00" y1="957.00" x2="1299.00" y2="940.00" stroke="#000" stroke-width="6"/>
<line x1="1299.00" y1="381.00" x2="1299.00" y2="398.00" stroke="#000" stroke-width="6"/>
<line x1="1310.00" y1="957.00" x2="1310.00" y2="940.00" stroke="#000" stroke-width="6"/>
<line x1="1310.00" y1="381.00" x2="1310.00" y2="398.00" stroke="#000" stroke-width="6"/>
<line x1="1321.00" y1="957.00" x2="1321.00" y2="940.00" stroke="#000" stroke-width="6"/>
<line x1="1321.00" y1="381.00" x2="1321.00" y2="398.00" stroke="#000" stroke-width="6"/>
<line x1="1330.00" y1="957.00" x2="1330.00" y2="924.00" stroke="#000" stroke-width="6"/>
<line x1="1330.00" y1="381.00" x2="1330.00" y2="414.00" stroke="#000" stroke-width="6"/>
<line x1="1391.00" y1="957.00" x2="1391.00" y2="940.00" stroke="#000" stroke-width="6"/>
<line x1="1391.00" y1="381.00" x2="1391.00" y2="398.00" stroke="#000" stroke-width="6"/>
<line x1="1427.00" y1="957.00" x2="1427.00" y2="940.00" stroke="#000" stroke-width="6"/>
<line x1="1427.00" y1="381.00" x2="1427.00" y2="398.00" stroke="#000" stroke-width="6"/>
<line x1="1452.00" y1="957.00" x2="1452.00" y2="940.00" stroke="#000" stroke-width="6"/>
<line x1="1452.00" y1="381.00" x2="1452.00" y2="398.00" stroke="#000" stroke-width="6"/>
<line x1="1472.00" y1="957.00" x2="1472.00" y2="940.00" stroke="#000" stroke-width="6"/>
<line x1="1472.00" y1="381.00" x2="1472.00" y2="398.00" stroke="#000" stroke-width="6"/>
<line x1="1488.00" y1="957.00" x2="1488.00" y2="940.00" stroke="#000" stroke-width="6"/>
<line x1="1488.00" y1="381.00" x2="1488.00" y2="398.00" stroke="#000" stroke-width="6"/>
<line x1="1502.00" y1="957.00" x2="1502.00" y2="940.00" stroke="#000" stroke-width="6"/>
<line x1="1502.00" y1="381.00" x2="1502.00" y2="398.00" stroke="#000" stroke-width="6"/>
<line x1="1513.00" y1="957.00" x2="1513.00" y2="940.00" stroke="#000" stroke-width="6"/>
<line x1="1513.00" y1="381.00" x2="1513.00" y2="398.00" stroke="#000" stroke-width="6"/>
<line x1="1524.00" y1="957.00" x2="1524.00" y2="940.00" stroke="#000" stroke-width="6"/>
<line x1="1524.00" y1="381.00" x2="1524.00" y2="398.00" stroke="#000" stroke-width="6"/>
<line x1="924.00" y1="957.00" x2="957.00" y2="957.00" stroke="#000" stroke-width="6"/>
<line x1="1533.00" y1="957.00" x2="1500.00" y2="957.00" stroke="#000" stroke-width="6"/>
<line x1="924.00" y1="909.00" x2="941.00" y2="909.00" stroke="#000" stroke-width="6"/>
<line x1="1533.00" y1="909.00" x2="1516.00" y2="909.00" stroke="#000" stroke-width="6"/>
<line x1="924.00" y1="861.00" x2="941.00" y2="861.00" stroke="#000" stroke-width="6"/>
<line x1="1533.00" y1="861.00" x2="1516.00" y2="861.00" stroke="#000" stroke-width="6"/>
<line x1="924.00" y1="813.00" x2="941.00" y2="813.00" stroke="#000" stroke-width="6"/>
<line x1="1533.00" y1="813.00" x2="1516.00" y2="813.00" stroke="#000" stroke-width="6"/>
<line x1="924.00" y1="765.00" x2="957.00" y2="765.00" stroke="#000" stroke-width="6"/>
<line x1="1533.00" y1="765.00" x2="1500.00" y2="765.00" stroke="#000" stroke-width="6"/>
<line x1="924.00" y1="717.00" x2="941.00" y2="717.00" stroke="#000" stroke-width="6"/>
<line x1="1533.00" y1="717.00" x2="1516.00" y2="717.00" stroke="#000" stroke-width="6"/>
<line x1="924.00" y1="669.00" x2="941.00" y2="669.00" stroke="#000" stroke-width="6"/>
<line x1="1533.00" y1="669.00" x2="1516.00" y2="669.00" stroke="#000" stroke-width="6"/>
<line x1="924.00" y1="621.00" x2="941.00" y2="621.00" stroke="#000" stroke-width="6"/>
<line x1="1533.00" y1="621.00" x2="1516.00" y2="621.00" stroke="#000" stroke-width="6"/>
<line x1="924.00" y1="573.00" x2="957.00" y2="573.00" stroke="#000" stroke-width="6"/>
<line x1="1533.00" y1="573.00" x2="1500.00" y2="573.00" stroke="#000" stroke-width="6"/>
<line x1="924.00" y1="525.00" x2="941.00" y2="525.00" stroke="#000" stroke-width="6"/>
<line x1="1533.00" y1="525.00" x2="1516.00" y2="525.00" stroke="#000" stroke-width="6"/>
<line x1="924.00" y1="477.00" x2="941.00" y2="477.00" stroke="#000" stroke-width="6"/>
<line x1="1533.00" y1="477.00" x2="1516.00" y2="477.00" stroke="#000" stroke-width="6"/>
<line x1="924.00" y1="429.00" x2="941.00" y2="429.00" stroke="#000" stroke-width="6"/>
<line x1="1533.00" y1="429.00" x2="1516.00" y2="429.00" stroke="#000" stroke-width="6"/>
<line x1="924.00" y1="381.00" x2="957.00" y2="381.00" stroke="#000" stroke-width="6"/>
<line x1="1533.00" y1="381.00" x2="1500.00" y2="381.00" stroke="#000" stroke-width="6"/>
<rect x="924" y="381" width="609" height="576" fill="none" stroke="#000" stroke-width="6"/>
</g>
<g id="main-labels">
<text x="382.0" y="1446.3" font-size="91" text-anchor="middle">0</text>
<text x="704.5" y="1446.3" font-size="91" text-anchor="middle">0.1</text>
<text x="1024.0" y="1446.3" font-size="91" text-anchor="middle">0.2</text>
<text x="1345.8" y="1446.3" font-size="91" text-anchor="middle">0.3</text>
<text x="1664.0" y="1446.3" font-size="91" text-anchor="middle">0.4</text>
<text x="368.0" y="1398.8" font-size="91" text-anchor="end">0</text>
<text x="368.0" y="1135.4" font-size="91" text-anchor="end">0.02</text>
<text x="368.0" y="872.0" font-size="91" text-anchor="end">0.04</text>
<text x="368.0" y="608.6" font-size="91" text-anchor="end">0.06</text>
<text x="368.0" y="345.2" font-size="91" text-anchor="end">0.08</text>
<text x="370.5" y="81.8" font-size="91" text-anchor="end">0.1</text>
<text x="1025.5" y="1538.2" font-size="95.5" text-anchor="middle">energy (eV)</text>
</g>
<g id="inset-labels">
<text x="1129.5" y="1030.0" font-size="83" text-anchor="middle">0.001</text>
<text x="1332.0" y="1030.0" font-size="83" text-anchor="middle">0.01</text>
<text x="1536.0" y="1030.0" font-size="83" text-anchor="middle">0.1</text>
<text x="908.6" y="984.3" font-size="83" text-anchor="end">0</text>
<text x="908.6" y="792.3" font-size="83" text-anchor="end">2</text>
<text x="908.6" y="600.3" font-size="83" text-anchor="end">4</text>
<text x="908.6" y="408.3" font-size="83" text-anchor="end">6</text>
<text x="1230.0" y="1104.7" font-size="83" text-anchor="middle">energy (eV)</text>
</g>
<g id="legend">
<line x1="646" y1="145" x2="763" y2="145" stroke="#000" stroke-width="6" shape-rendering="crispEdges" stroke-dasharray="6 14"/>
<text x="794.0" y="171.2" font-size="78.4" text-anchor="start">Drude</text>
<line x1="646" y1="216" x2="763" y2="216" stroke="#000" stroke-width="6" shape-rendering="crispEdges"/>
<text x="794.0" y="240.8" font-size="78.4" text-anchor="start">T = 300 K</text>
<line x1="646" y1="286" x2="763" y2="286" stroke="#0000ff" stroke-width="6" shape-rendering="crispEdges" stroke-dasharray="26 14"/>
<text x="834.5" y="311.7" font-size="78.4" text-anchor="start">200 K</text>
<line x1="1189" y1="145" x2="1306" y2="145" stroke="#ff0000" stroke-width="6" shape-rendering="crispEdges" stroke-dasharray="6 14 26 14"/>
<text x="1338.0" y="170.8" font-size="78.4" text-anchor="start">100 K</text>
<line x1="1189" y1="216" x2="1306" y2="216" stroke="#008b00" stroke-width="6" shape-rendering="crispEdges" stroke-dasharray="6 14 26 14 6 14"/>
<text x="1376.5" y="242.6" font-size="78.4" text-anchor="start">50 K</text>
</g>
<g id="ylabel-main" transform="translate(131.9 985.0) rotate(-90)">
<text x="-3.2" y="-1.3" class="sg" font-size="82.0" stroke-width="1.7">σ</text>
<text x="51.3" y="35.4" font-size="64.6">1</text>
<text x="107.1" y="0" font-size="91.0">/</text>
<text x="154.8" y="-1.3" class="sg" font-size="82.0" stroke-width="1.7">σ</text>
<text x="210.2" y="-53.7" font-size="64.6">dc</text>
<text x="271.3" y="0" font-size="91.0">(300 K)</text>
</g>
<g id="ylabel-inset" transform="translate(803.3 920.8) rotate(-90)">
<text x="-2.9" y="-1.2" class="sg" font-size="75.1" stroke-width="1.6">σ</text>
<text x="47.0" y="32.4" font-size="59.1">1</text>
<text x="98.0" y="0" font-size="83.3">/</text>
<text x="141.7" y="-1.2" class="sg" font-size="75.1" stroke-width="1.6">σ</text>
<text x="192.4" y="-49.2" font-size="59.1">dc</text>
<text x="248.3" y="0" font-size="83.3">(300 K)</text>
</g>
</svg></body></html>
